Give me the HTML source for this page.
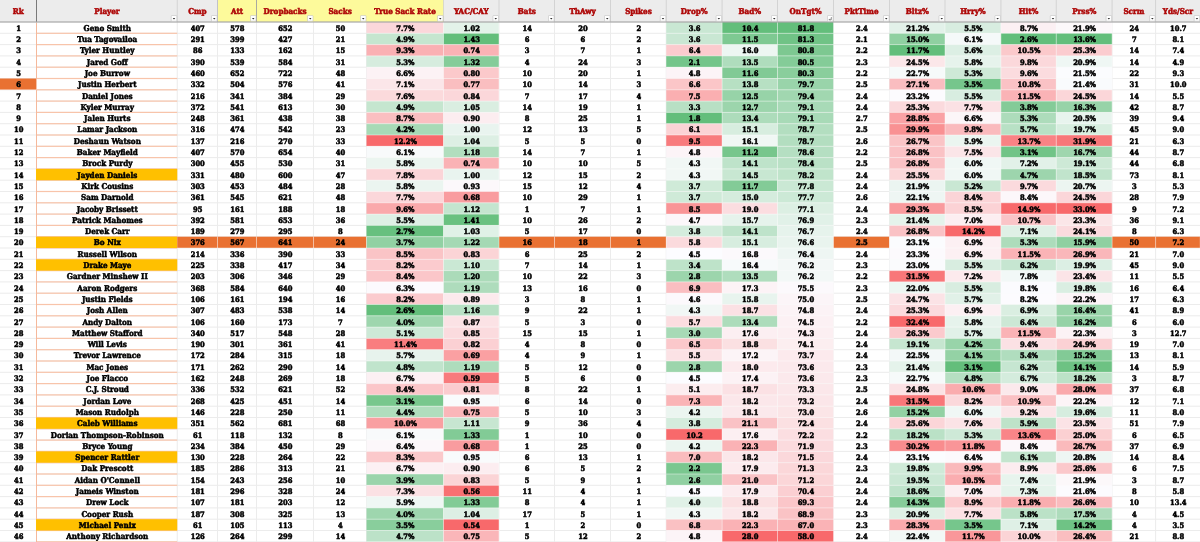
<!DOCTYPE html>
<html><head><meta charset="utf-8"><title>QB Advanced Passing</title>
<style>
html,body{margin:0;padding:0;background:#fff;}
body{width:1200px;height:542px;overflow:hidden;position:relative;font-family:"DejaVu Serif Condensed","DejaVu Serif","Liberation Serif",serif;font-weight:bold;color:#000;text-rendering:geometricPrecision;}
#sheet{position:absolute;left:0;top:0;width:1200px;height:542px;overflow:hidden;background:#fff;}
#bg{position:absolute;left:0;top:0;display:block;}
.c{position:absolute;box-sizing:border-box;padding-left:0.8px;text-align:center;white-space:nowrap;overflow:hidden;font-size:8.0px;letter-spacing:0;-webkit-text-stroke:0.46px #000;line-height:11.5px;height:11.3px;}
.h{position:absolute;box-sizing:border-box;padding-left:0.1px;top:0;height:22.5px;line-height:23.5px;text-align:center;white-space:nowrap;overflow:hidden;font-size:8.0px;letter-spacing:0;-webkit-text-stroke:0.5px #AE0808;color:#AE0808;}
.n{font-size:7.5px;-webkit-text-stroke-width:0.52px;}
</style></head><body><div id="sheet">

<svg id="bg" width="1200" height="542" viewBox="0 0 1200 542">
<rect width="1200" height="542" fill="#fff"/>
<rect x="0" y="0" width="1200" height="22.0" fill="#ECECEC"/>
<rect x="217.5" y="0" width="226" height="22.0" fill="#FDFA9B"/>
<rect x="36" y="0" width="1" height="22.0" fill="#7A7A7A"/>
<rect x="176.75" y="0" width="1" height="22.0" fill="#D3D3D3"/>
<rect x="217" y="0" width="1" height="22.0" fill="#C2C2C8"/>
<rect x="256" y="0" width="1" height="22.0" fill="#A9A9A0"/>
<rect x="443" y="0" width="1" height="22.0" fill="#D9D9C8"/>
<rect x="498.5" y="0" width="1" height="22.0" fill="#D3D3D3"/>
<rect x="554" y="0" width="1" height="22.0" fill="#D3D3D3"/>
<rect x="610" y="0" width="1" height="22.0" fill="#D3D3D3"/>
<rect x="665.75" y="0" width="1" height="22.0" fill="#D3D3D3"/>
<rect x="721.6" y="0" width="1" height="22.0" fill="#D3D3D3"/>
<rect x="777" y="0" width="1" height="22.0" fill="#D3D3D3"/>
<rect x="833" y="0" width="1" height="22.0" fill="#D3D3D3"/>
<rect x="889" y="0" width="1" height="22.0" fill="#D3D3D3"/>
<rect x="944.5" y="0" width="1" height="22.0" fill="#D3D3D3"/>
<rect x="1000.4" y="0" width="1" height="22.0" fill="#D3D3D3"/>
<rect x="1055.75" y="0" width="1" height="22.0" fill="#D3D3D3"/>
<rect x="1111.6" y="0" width="1" height="22.0" fill="#D3D3D3"/>
<rect x="1155.1" y="0" width="1" height="22.0" fill="#D3D3D3"/>
<rect x="0" y="32.8" width="1200" height="1" fill="#ECECEC"/>
<rect x="0" y="44.1" width="1200" height="1" fill="#ECECEC"/>
<rect x="0" y="55.4" width="1200" height="1" fill="#ECECEC"/>
<rect x="0" y="66.7" width="1200" height="1" fill="#ECECEC"/>
<rect x="0" y="78" width="1200" height="1" fill="#ECECEC"/>
<rect x="0" y="89.3" width="1200" height="1" fill="#ECECEC"/>
<rect x="0" y="100.6" width="1200" height="1" fill="#ECECEC"/>
<rect x="0" y="111.9" width="1200" height="1" fill="#ECECEC"/>
<rect x="0" y="123.2" width="1200" height="1" fill="#ECECEC"/>
<rect x="0" y="134.5" width="1200" height="1" fill="#ECECEC"/>
<rect x="0" y="145.8" width="1200" height="1" fill="#ECECEC"/>
<rect x="0" y="157.1" width="1200" height="1" fill="#ECECEC"/>
<rect x="0" y="168.4" width="1200" height="1" fill="#ECECEC"/>
<rect x="0" y="179.7" width="1200" height="1" fill="#ECECEC"/>
<rect x="0" y="191" width="1200" height="1" fill="#ECECEC"/>
<rect x="0" y="202.3" width="1200" height="1" fill="#ECECEC"/>
<rect x="0" y="213.6" width="1200" height="1" fill="#ECECEC"/>
<rect x="0" y="224.9" width="1200" height="1" fill="#ECECEC"/>
<rect x="0" y="236.2" width="1200" height="1" fill="#ECECEC"/>
<rect x="0" y="247.5" width="1200" height="1" fill="#ECECEC"/>
<rect x="0" y="258.8" width="1200" height="1" fill="#ECECEC"/>
<rect x="0" y="270.1" width="1200" height="1" fill="#ECECEC"/>
<rect x="0" y="281.4" width="1200" height="1" fill="#ECECEC"/>
<rect x="0" y="292.7" width="1200" height="1" fill="#ECECEC"/>
<rect x="0" y="304" width="1200" height="1" fill="#ECECEC"/>
<rect x="0" y="315.3" width="1200" height="1" fill="#ECECEC"/>
<rect x="0" y="326.6" width="1200" height="1" fill="#ECECEC"/>
<rect x="0" y="337.9" width="1200" height="1" fill="#ECECEC"/>
<rect x="0" y="349.2" width="1200" height="1" fill="#ECECEC"/>
<rect x="0" y="360.5" width="1200" height="1" fill="#ECECEC"/>
<rect x="0" y="371.8" width="1200" height="1" fill="#ECECEC"/>
<rect x="0" y="383.1" width="1200" height="1" fill="#ECECEC"/>
<rect x="0" y="394.4" width="1200" height="1" fill="#ECECEC"/>
<rect x="0" y="405.7" width="1200" height="1" fill="#ECECEC"/>
<rect x="0" y="417" width="1200" height="1" fill="#ECECEC"/>
<rect x="0" y="428.3" width="1200" height="1" fill="#ECECEC"/>
<rect x="0" y="439.6" width="1200" height="1" fill="#ECECEC"/>
<rect x="0" y="450.9" width="1200" height="1" fill="#ECECEC"/>
<rect x="0" y="462.2" width="1200" height="1" fill="#ECECEC"/>
<rect x="0" y="473.5" width="1200" height="1" fill="#ECECEC"/>
<rect x="0" y="484.8" width="1200" height="1" fill="#ECECEC"/>
<rect x="0" y="496.1" width="1200" height="1" fill="#ECECEC"/>
<rect x="0" y="507.4" width="1200" height="1" fill="#ECECEC"/>
<rect x="0" y="518.7" width="1200" height="1" fill="#ECECEC"/>
<rect x="0" y="530" width="1200" height="1" fill="#ECECEC"/>
<rect x="0" y="541.3" width="1200" height="1" fill="#ECECEC"/>
<rect x="36" y="22.0" width="1" height="520" fill="#ECECEC"/>
<rect x="176.75" y="22.0" width="1" height="520" fill="#ECECEC"/>
<rect x="217" y="22.0" width="1" height="520" fill="#ECECEC"/>
<rect x="256" y="22.0" width="1" height="520" fill="#ECECEC"/>
<rect x="313" y="22.0" width="1" height="520" fill="#ECECEC"/>
<rect x="366" y="22.0" width="1" height="520" fill="#ECECEC"/>
<rect x="443" y="22.0" width="1" height="520" fill="#ECECEC"/>
<rect x="498.5" y="22.0" width="1" height="520" fill="#ECECEC"/>
<rect x="554" y="22.0" width="1" height="520" fill="#ECECEC"/>
<rect x="610" y="22.0" width="1" height="520" fill="#ECECEC"/>
<rect x="665.75" y="22.0" width="1" height="520" fill="#ECECEC"/>
<rect x="721.6" y="22.0" width="1" height="520" fill="#ECECEC"/>
<rect x="777" y="22.0" width="1" height="520" fill="#ECECEC"/>
<rect x="833" y="22.0" width="1" height="520" fill="#ECECEC"/>
<rect x="889" y="22.0" width="1" height="520" fill="#ECECEC"/>
<rect x="944.5" y="22.0" width="1" height="520" fill="#ECECEC"/>
<rect x="1000.4" y="22.0" width="1" height="520" fill="#ECECEC"/>
<rect x="1055.75" y="22.0" width="1" height="520" fill="#ECECEC"/>
<rect x="1111.6" y="22.0" width="1" height="520" fill="#ECECEC"/>
<rect x="1155.1" y="22.0" width="1" height="520" fill="#ECECEC"/>
<rect x="36.5" y="32.7" width="140.75" height="1.2" fill="#F8C4AA"/>
<rect x="36.5" y="44" width="140.75" height="1.2" fill="#F8C4AA"/>
<rect x="36.5" y="55.3" width="140.75" height="1.2" fill="#F8C4AA"/>
<rect x="36.5" y="66.6" width="140.75" height="1.2" fill="#F8C4AA"/>
<rect x="36.5" y="77.9" width="140.75" height="1.2" fill="#F8C4AA"/>
<rect x="36.5" y="89.2" width="140.75" height="1.2" fill="#F8C4AA"/>
<rect x="36.5" y="100.5" width="140.75" height="1.2" fill="#F8C4AA"/>
<rect x="36.5" y="111.8" width="140.75" height="1.2" fill="#F8C4AA"/>
<rect x="36.5" y="123.1" width="140.75" height="1.2" fill="#F8C4AA"/>
<rect x="36.5" y="134.4" width="140.75" height="1.2" fill="#F8C4AA"/>
<rect x="36.5" y="145.7" width="140.75" height="1.2" fill="#F8C4AA"/>
<rect x="36.5" y="157" width="140.75" height="1.2" fill="#F8C4AA"/>
<rect x="36.5" y="168.3" width="140.75" height="1.2" fill="#F8C4AA"/>
<rect x="36.5" y="179.6" width="140.75" height="1.2" fill="#F8C4AA"/>
<rect x="36.5" y="190.9" width="140.75" height="1.2" fill="#F8C4AA"/>
<rect x="36.5" y="202.2" width="140.75" height="1.2" fill="#F8C4AA"/>
<rect x="36.5" y="213.5" width="140.75" height="1.2" fill="#F8C4AA"/>
<rect x="36.5" y="224.8" width="140.75" height="1.2" fill="#F8C4AA"/>
<rect x="36.5" y="236.1" width="140.75" height="1.2" fill="#F8C4AA"/>
<rect x="36.5" y="247.4" width="140.75" height="1.2" fill="#F8C4AA"/>
<rect x="36.5" y="258.7" width="140.75" height="1.2" fill="#F8C4AA"/>
<rect x="36.5" y="270" width="140.75" height="1.2" fill="#F8C4AA"/>
<rect x="36.5" y="281.3" width="140.75" height="1.2" fill="#F8C4AA"/>
<rect x="36.5" y="292.6" width="140.75" height="1.2" fill="#F8C4AA"/>
<rect x="36.5" y="303.9" width="140.75" height="1.2" fill="#F8C4AA"/>
<rect x="36.5" y="315.2" width="140.75" height="1.2" fill="#F8C4AA"/>
<rect x="36.5" y="326.5" width="140.75" height="1.2" fill="#F8C4AA"/>
<rect x="36.5" y="337.8" width="140.75" height="1.2" fill="#F8C4AA"/>
<rect x="36.5" y="349.1" width="140.75" height="1.2" fill="#F8C4AA"/>
<rect x="36.5" y="360.4" width="140.75" height="1.2" fill="#F8C4AA"/>
<rect x="36.5" y="371.7" width="140.75" height="1.2" fill="#F8C4AA"/>
<rect x="36.5" y="383" width="140.75" height="1.2" fill="#F8C4AA"/>
<rect x="36.5" y="394.3" width="140.75" height="1.2" fill="#F8C4AA"/>
<rect x="36.5" y="405.6" width="140.75" height="1.2" fill="#F8C4AA"/>
<rect x="36.5" y="416.9" width="140.75" height="1.2" fill="#F8C4AA"/>
<rect x="36.5" y="428.2" width="140.75" height="1.2" fill="#F8C4AA"/>
<rect x="36.5" y="439.5" width="140.75" height="1.2" fill="#F8C4AA"/>
<rect x="36.5" y="450.8" width="140.75" height="1.2" fill="#F8C4AA"/>
<rect x="36.5" y="462.1" width="140.75" height="1.2" fill="#F8C4AA"/>
<rect x="36.5" y="473.4" width="140.75" height="1.2" fill="#F8C4AA"/>
<rect x="36.5" y="484.7" width="140.75" height="1.2" fill="#F8C4AA"/>
<rect x="36.5" y="496" width="140.75" height="1.2" fill="#F8C4AA"/>
<rect x="36.5" y="507.3" width="140.75" height="1.2" fill="#F8C4AA"/>
<rect x="36.5" y="518.6" width="140.75" height="1.2" fill="#F8C4AA"/>
<rect x="36.5" y="529.9" width="140.75" height="1.2" fill="#F8C4AA"/>
<rect x="36.5" y="541.2" width="140.75" height="1.2" fill="#F8C4AA"/>
<rect x="36" y="22.6" width="1" height="520" fill="#F5B99C"/>
<rect x="366.5" y="22" width="77" height="11.3" fill="#FBD7DA"/>
<rect x="443.5" y="22" width="55.5" height="11.3" fill="#E3F2E9"/>
<rect x="666.25" y="22" width="55.85" height="11.3" fill="#C9E7D3"/>
<rect x="722.1" y="22" width="55.4" height="11.3" fill="#63BE7B"/>
<rect x="777.5" y="22" width="56" height="11.3" fill="#63BE7B"/>
<rect x="889.5" y="22" width="55.5" height="11.3" fill="#E2F1E9"/>
<rect x="945" y="22" width="55.9" height="11.3" fill="#D8EDE0"/>
<rect x="1000.9" y="22" width="55.35" height="11.3" fill="#FCF0F3"/>
<rect x="1056.25" y="22" width="55.85" height="11.3" fill="#FCF8FA"/>
<rect x="366.5" y="33.3" width="77" height="11.3" fill="#C5E6CF"/>
<rect x="443.5" y="33.3" width="55.5" height="11.3" fill="#63BE7B"/>
<rect x="666.25" y="33.3" width="55.85" height="11.3" fill="#C9E7D3"/>
<rect x="722.1" y="33.3" width="55.4" height="11.3" fill="#7EC992"/>
<rect x="777.5" y="33.3" width="56" height="11.3" fill="#70C386"/>
<rect x="889.5" y="33.3" width="55.5" height="11.3" fill="#8FD0A1"/>
<rect x="945" y="33.3" width="55.9" height="11.3" fill="#F5F9F9"/>
<rect x="1000.9" y="33.3" width="55.35" height="11.3" fill="#63BE7B"/>
<rect x="1056.25" y="33.3" width="55.85" height="11.3" fill="#63BE7B"/>
<rect x="366.5" y="44.6" width="77" height="11.3" fill="#FAB0B3"/>
<rect x="443.5" y="44.6" width="55.5" height="11.3" fill="#FAB2B5"/>
<rect x="666.25" y="44.6" width="55.85" height="11.3" fill="#FBCBCE"/>
<rect x="722.1" y="44.6" width="55.4" height="11.3" fill="#EDF6F2"/>
<rect x="777.5" y="44.6" width="56" height="11.3" fill="#7DC891"/>
<rect x="889.5" y="44.6" width="55.5" height="11.3" fill="#63BE7B"/>
<rect x="945" y="44.6" width="55.9" height="11.3" fill="#DCEFE4"/>
<rect x="1000.9" y="44.6" width="55.35" height="11.3" fill="#FBC9CB"/>
<rect x="1056.25" y="44.6" width="55.85" height="11.3" fill="#FBCCCF"/>
<rect x="366.5" y="55.9" width="77" height="11.3" fill="#D6ECDE"/>
<rect x="443.5" y="55.9" width="55.5" height="11.3" fill="#85CC99"/>
<rect x="666.25" y="55.9" width="55.85" height="11.3" fill="#74C58A"/>
<rect x="722.1" y="55.9" width="55.4" height="11.3" fill="#AFDDBD"/>
<rect x="777.5" y="55.9" width="56" height="11.3" fill="#84CC98"/>
<rect x="889.5" y="55.9" width="55.5" height="11.3" fill="#FBE7E9"/>
<rect x="945" y="55.9" width="55.9" height="11.3" fill="#E6F3EC"/>
<rect x="1000.9" y="55.9" width="55.35" height="11.3" fill="#FBD8DB"/>
<rect x="1056.25" y="55.9" width="55.85" height="11.3" fill="#EFF7F4"/>
<rect x="366.5" y="67.2" width="77" height="11.3" fill="#FCF2F5"/>
<rect x="443.5" y="67.2" width="55.5" height="11.3" fill="#FBC9CB"/>
<rect x="666.25" y="67.2" width="55.85" height="11.3" fill="#FCF4F7"/>
<rect x="722.1" y="67.2" width="55.4" height="11.3" fill="#81CA95"/>
<rect x="777.5" y="67.2" width="56" height="11.3" fill="#8ACE9C"/>
<rect x="889.5" y="67.2" width="55.5" height="11.3" fill="#F6FAFA"/>
<rect x="945" y="67.2" width="55.9" height="11.3" fill="#CEE9D7"/>
<rect x="1000.9" y="67.2" width="55.35" height="11.3" fill="#FBDCDF"/>
<rect x="1056.25" y="67.2" width="55.85" height="11.3" fill="#FBFCFE"/>
<rect x="0" y="78.5" width="36.5" height="11.3" fill="#E97132"/>
<rect x="366.5" y="78.5" width="77" height="11.3" fill="#FBE6E9"/>
<rect x="443.5" y="78.5" width="55.5" height="11.3" fill="#FABEC0"/>
<rect x="666.25" y="78.5" width="55.85" height="11.3" fill="#FBC6C8"/>
<rect x="722.1" y="78.5" width="55.4" height="11.3" fill="#B7E0C3"/>
<rect x="777.5" y="78.5" width="56" height="11.3" fill="#99D4AA"/>
<rect x="889.5" y="78.5" width="55.5" height="11.3" fill="#FABDC0"/>
<rect x="945" y="78.5" width="55.9" height="11.3" fill="#76C68C"/>
<rect x="1000.9" y="78.5" width="55.35" height="11.3" fill="#FAC2C5"/>
<rect x="1056.25" y="78.5" width="55.85" height="11.3" fill="#F9FBFD"/>
<rect x="366.5" y="89.8" width="77" height="11.3" fill="#FBDADC"/>
<rect x="443.5" y="89.8" width="55.5" height="11.3" fill="#FBD7DA"/>
<rect x="666.25" y="89.8" width="55.85" height="11.3" fill="#FAAFB1"/>
<rect x="722.1" y="89.8" width="55.4" height="11.3" fill="#97D3A8"/>
<rect x="777.5" y="89.8" width="56" height="11.3" fill="#A1D7B0"/>
<rect x="889.5" y="89.8" width="55.5" height="11.3" fill="#FCFBFE"/>
<rect x="945" y="89.8" width="55.9" height="11.3" fill="#D8EDE0"/>
<rect x="1000.9" y="89.8" width="55.35" height="11.3" fill="#FAB3B6"/>
<rect x="1056.25" y="89.8" width="55.85" height="11.3" fill="#FBD6D9"/>
<rect x="366.5" y="101.1" width="77" height="11.3" fill="#C5E6CF"/>
<rect x="443.5" y="101.1" width="55.5" height="11.3" fill="#DAEEE1"/>
<rect x="666.25" y="101.1" width="55.85" height="11.3" fill="#B8E0C4"/>
<rect x="722.1" y="101.1" width="55.4" height="11.3" fill="#9CD5AC"/>
<rect x="777.5" y="101.1" width="56" height="11.3" fill="#A8DAB7"/>
<rect x="889.5" y="101.1" width="55.5" height="11.3" fill="#FBDADD"/>
<rect x="945" y="101.1" width="55.9" height="11.3" fill="#FBE1E4"/>
<rect x="1000.9" y="101.1" width="55.35" height="11.3" fill="#84CB98"/>
<rect x="1056.25" y="101.1" width="55.85" height="11.3" fill="#97D3A8"/>
<rect x="366.5" y="112.4" width="77" height="11.3" fill="#FABFC1"/>
<rect x="443.5" y="112.4" width="55.5" height="11.3" fill="#FCEDF0"/>
<rect x="666.25" y="112.4" width="55.85" height="11.3" fill="#63BE7B"/>
<rect x="722.1" y="112.4" width="55.4" height="11.3" fill="#ADDCBB"/>
<rect x="777.5" y="112.4" width="56" height="11.3" fill="#A8DAB7"/>
<rect x="889.5" y="112.4" width="55.5" height="11.3" fill="#FAA2A5"/>
<rect x="945" y="112.4" width="55.9" height="11.3" fill="#FCF6F8"/>
<rect x="1000.9" y="112.4" width="55.35" height="11.3" fill="#ADDCBB"/>
<rect x="1056.25" y="112.4" width="55.85" height="11.3" fill="#E8F4EE"/>
<rect x="366.5" y="123.7" width="77" height="11.3" fill="#A7DAB6"/>
<rect x="443.5" y="123.7" width="55.5" height="11.3" fill="#E9F4EF"/>
<rect x="666.25" y="123.7" width="55.85" height="11.3" fill="#FBD3D5"/>
<rect x="722.1" y="123.7" width="55.4" height="11.3" fill="#D7EDDF"/>
<rect x="777.5" y="123.7" width="56" height="11.3" fill="#B3DEC0"/>
<rect x="889.5" y="123.7" width="55.5" height="11.3" fill="#F99193"/>
<rect x="945" y="123.7" width="55.9" height="11.3" fill="#FABABD"/>
<rect x="1000.9" y="123.7" width="55.35" height="11.3" fill="#B8E1C5"/>
<rect x="1056.25" y="123.7" width="55.85" height="11.3" fill="#D8EEE0"/>
<rect x="366.5" y="135" width="77" height="11.3" fill="#F8696B"/>
<rect x="443.5" y="135" width="55.5" height="11.3" fill="#DDEFE4"/>
<rect x="666.25" y="135" width="55.85" height="11.3" fill="#F87B7D"/>
<rect x="722.1" y="135" width="55.4" height="11.3" fill="#F0F7F4"/>
<rect x="777.5" y="135" width="56" height="11.3" fill="#B3DEC0"/>
<rect x="889.5" y="135" width="55.5" height="11.3" fill="#FAC4C6"/>
<rect x="945" y="135" width="55.9" height="11.3" fill="#EBF5F0"/>
<rect x="1000.9" y="135" width="55.35" height="11.3" fill="#F98385"/>
<rect x="1056.25" y="135" width="55.85" height="11.3" fill="#F87779"/>
<rect x="366.5" y="146.3" width="77" height="11.3" fill="#F8FAFB"/>
<rect x="443.5" y="146.3" width="55.5" height="11.3" fill="#B1DEBE"/>
<rect x="666.25" y="146.3" width="55.85" height="11.3" fill="#FCF4F7"/>
<rect x="722.1" y="146.3" width="55.4" height="11.3" fill="#77C68C"/>
<rect x="777.5" y="146.3" width="56" height="11.3" fill="#B5DFC2"/>
<rect x="889.5" y="146.3" width="55.5" height="11.3" fill="#FAC2C5"/>
<rect x="945" y="146.3" width="55.9" height="11.3" fill="#FBE5E8"/>
<rect x="1000.9" y="146.3" width="55.35" height="11.3" fill="#71C487"/>
<rect x="1056.25" y="146.3" width="55.85" height="11.3" fill="#9FD6AE"/>
<rect x="366.5" y="157.6" width="77" height="11.3" fill="#EBF5F0"/>
<rect x="443.5" y="157.6" width="55.5" height="11.3" fill="#FAB2B5"/>
<rect x="666.25" y="157.6" width="55.85" height="11.3" fill="#F1F7F5"/>
<rect x="722.1" y="157.6" width="55.4" height="11.3" fill="#BEE3CA"/>
<rect x="777.5" y="157.6" width="56" height="11.3" fill="#BAE1C6"/>
<rect x="889.5" y="157.6" width="55.5" height="11.3" fill="#FAC2C5"/>
<rect x="945" y="157.6" width="55.9" height="11.3" fill="#F0F7F5"/>
<rect x="1000.9" y="157.6" width="55.35" height="11.3" fill="#E2F1E8"/>
<rect x="1056.25" y="157.6" width="55.85" height="11.3" fill="#CDE9D6"/>
<rect x="36" y="168.9" width="141.25" height="11.3" fill="#FFC000"/>
<rect x="366.5" y="168.9" width="77" height="11.3" fill="#FBD5D8"/>
<rect x="443.5" y="168.9" width="55.5" height="11.3" fill="#E9F4EF"/>
<rect x="666.25" y="168.9" width="55.85" height="11.3" fill="#F1F7F5"/>
<rect x="722.1" y="168.9" width="55.4" height="11.3" fill="#C8E7D2"/>
<rect x="777.5" y="168.9" width="56" height="11.3" fill="#C0E4CB"/>
<rect x="889.5" y="168.9" width="55.5" height="11.3" fill="#FBD7D9"/>
<rect x="945" y="168.9" width="55.9" height="11.3" fill="#F0F7F5"/>
<rect x="1000.9" y="168.9" width="55.35" height="11.3" fill="#9DD5AD"/>
<rect x="1056.25" y="168.9" width="55.85" height="11.3" fill="#C1E4CC"/>
<rect x="366.5" y="180.2" width="77" height="11.3" fill="#EBF5F0"/>
<rect x="443.5" y="180.2" width="55.5" height="11.3" fill="#FCF8FB"/>
<rect x="666.25" y="180.2" width="55.85" height="11.3" fill="#CFEAD8"/>
<rect x="722.1" y="180.2" width="55.4" height="11.3" fill="#83CB97"/>
<rect x="777.5" y="180.2" width="56" height="11.3" fill="#CAE8D4"/>
<rect x="889.5" y="180.2" width="55.5" height="11.3" fill="#EBF5F1"/>
<rect x="945" y="180.2" width="55.9" height="11.3" fill="#C9E7D3"/>
<rect x="1000.9" y="180.2" width="55.35" height="11.3" fill="#FBDADD"/>
<rect x="1056.25" y="180.2" width="55.85" height="11.3" fill="#ECF5F1"/>
<rect x="366.5" y="191.5" width="77" height="11.3" fill="#FBD7DA"/>
<rect x="443.5" y="191.5" width="55.5" height="11.3" fill="#F99C9F"/>
<rect x="666.25" y="191.5" width="55.85" height="11.3" fill="#CFEAD8"/>
<rect x="722.1" y="191.5" width="55.4" height="11.3" fill="#D5ECDD"/>
<rect x="777.5" y="191.5" width="56" height="11.3" fill="#CCE9D6"/>
<rect x="889.5" y="191.5" width="55.5" height="11.3" fill="#EEF6F3"/>
<rect x="945" y="191.5" width="55.9" height="11.3" fill="#FBD4D7"/>
<rect x="1000.9" y="191.5" width="55.35" height="11.3" fill="#FCF7FA"/>
<rect x="1056.25" y="191.5" width="55.85" height="11.3" fill="#FBD6D9"/>
<rect x="366.5" y="202.8" width="77" height="11.3" fill="#FAA9AB"/>
<rect x="443.5" y="202.8" width="55.5" height="11.3" fill="#C4E5CF"/>
<rect x="666.25" y="202.8" width="55.85" height="11.3" fill="#F99597"/>
<rect x="722.1" y="202.8" width="55.4" height="11.3" fill="#FBDDE0"/>
<rect x="777.5" y="202.8" width="56" height="11.3" fill="#DCEFE3"/>
<rect x="889.5" y="202.8" width="55.5" height="11.3" fill="#F99A9D"/>
<rect x="945" y="202.8" width="55.9" height="11.3" fill="#FBD2D5"/>
<rect x="1000.9" y="202.8" width="55.35" height="11.3" fill="#F8696B"/>
<rect x="1056.25" y="202.8" width="55.85" height="11.3" fill="#F8696B"/>
<rect x="366.5" y="214.1" width="77" height="11.3" fill="#DEF0E5"/>
<rect x="443.5" y="214.1" width="55.5" height="11.3" fill="#69C180"/>
<rect x="666.25" y="214.1" width="55.85" height="11.3" fill="#FCF7FA"/>
<rect x="722.1" y="214.1" width="55.4" height="11.3" fill="#E6F3EC"/>
<rect x="777.5" y="214.1" width="56" height="11.3" fill="#E1F1E8"/>
<rect x="889.5" y="214.1" width="55.5" height="11.3" fill="#E5F3EB"/>
<rect x="945" y="214.1" width="55.9" height="11.3" fill="#FCEEF1"/>
<rect x="1000.9" y="214.1" width="55.35" height="11.3" fill="#FAC4C7"/>
<rect x="1056.25" y="214.1" width="55.85" height="11.3" fill="#FBE6E8"/>
<rect x="366.5" y="225.4" width="77" height="11.3" fill="#67C07F"/>
<rect x="443.5" y="225.4" width="55.5" height="11.3" fill="#E0F1E7"/>
<rect x="666.25" y="225.4" width="55.85" height="11.3" fill="#D4ECDD"/>
<rect x="722.1" y="225.4" width="55.4" height="11.3" fill="#BEE3CA"/>
<rect x="777.5" y="225.4" width="56" height="11.3" fill="#E6F3EC"/>
<rect x="889.5" y="225.4" width="55.5" height="11.3" fill="#FAC2C5"/>
<rect x="945" y="225.4" width="55.9" height="11.3" fill="#F8696B"/>
<rect x="1000.9" y="225.4" width="55.35" height="11.3" fill="#DFF0E6"/>
<rect x="1056.25" y="225.4" width="55.85" height="11.3" fill="#FBDBDE"/>
<rect x="36" y="236.7" width="141.25" height="11.3" fill="#FFC000"/>
<rect x="177.25" y="236.7" width="40.25" height="11.3" fill="#E97132"/>
<rect x="217.5" y="236.7" width="39" height="11.3" fill="#E97132"/>
<rect x="256.5" y="236.7" width="57" height="11.3" fill="#E97132"/>
<rect x="313.5" y="236.7" width="53" height="11.3" fill="#E97132"/>
<rect x="366.5" y="236.7" width="77" height="11.3" fill="#92D1A3"/>
<rect x="443.5" y="236.7" width="55.5" height="11.3" fill="#A5D9B4"/>
<rect x="499" y="236.7" width="55.5" height="11.3" fill="#E97132"/>
<rect x="554.5" y="236.7" width="56" height="11.3" fill="#E97132"/>
<rect x="610.5" y="236.7" width="55.75" height="11.3" fill="#E97132"/>
<rect x="666.25" y="236.7" width="55.85" height="11.3" fill="#FBDADD"/>
<rect x="722.1" y="236.7" width="55.4" height="11.3" fill="#D7EDDF"/>
<rect x="777.5" y="236.7" width="56" height="11.3" fill="#E9F4EE"/>
<rect x="833.5" y="236.7" width="56" height="11.3" fill="#E97132"/>
<rect x="889.5" y="236.7" width="55.5" height="11.3" fill="#FBFCFE"/>
<rect x="945" y="236.7" width="55.9" height="11.3" fill="#FCF0F3"/>
<rect x="1000.9" y="236.7" width="55.35" height="11.3" fill="#ADDCBB"/>
<rect x="1056.25" y="236.7" width="55.85" height="11.3" fill="#8FD0A1"/>
<rect x="1112.1" y="236.7" width="43.5" height="11.3" fill="#E97132"/>
<rect x="1155.6" y="236.7" width="44.6" height="11.3" fill="#E97132"/>
<rect x="366.5" y="248" width="77" height="11.3" fill="#FAC4C6"/>
<rect x="443.5" y="248" width="55.5" height="11.3" fill="#FBD4D6"/>
<rect x="666.25" y="248" width="55.85" height="11.3" fill="#FCFCFF"/>
<rect x="722.1" y="248" width="55.4" height="11.3" fill="#FCF9FC"/>
<rect x="777.5" y="248" width="56" height="11.3" fill="#EEF6F3"/>
<rect x="889.5" y="248" width="55.5" height="11.3" fill="#FCFAFD"/>
<rect x="945" y="248" width="55.9" height="11.3" fill="#FCF0F3"/>
<rect x="1000.9" y="248" width="55.35" height="11.3" fill="#FAB3B6"/>
<rect x="1056.25" y="248" width="55.85" height="11.3" fill="#FAB7BA"/>
<rect x="36" y="259.3" width="141.25" height="11.3" fill="#FFC000"/>
<rect x="366.5" y="259.3" width="77" height="11.3" fill="#FBCBCE"/>
<rect x="443.5" y="259.3" width="55.5" height="11.3" fill="#CAE8D4"/>
<rect x="666.25" y="259.3" width="55.85" height="11.3" fill="#BEE3C9"/>
<rect x="722.1" y="259.3" width="55.4" height="11.3" fill="#F7FAFB"/>
<rect x="777.5" y="259.3" width="56" height="11.3" fill="#F3F8F7"/>
<rect x="889.5" y="259.3" width="55.5" height="11.3" fill="#FAFBFD"/>
<rect x="945" y="259.3" width="55.9" height="11.3" fill="#D8EDE0"/>
<rect x="1000.9" y="259.3" width="55.35" height="11.3" fill="#C6E6D1"/>
<rect x="1056.25" y="259.3" width="55.85" height="11.3" fill="#DCEFE4"/>
<rect x="366.5" y="270.6" width="77" height="11.3" fill="#FBC6C9"/>
<rect x="443.5" y="270.6" width="55.5" height="11.3" fill="#ABDBB9"/>
<rect x="666.25" y="270.6" width="55.85" height="11.3" fill="#9CD5AC"/>
<rect x="722.1" y="270.6" width="55.4" height="11.3" fill="#AFDDBD"/>
<rect x="777.5" y="270.6" width="56" height="11.3" fill="#F3F8F7"/>
<rect x="889.5" y="270.6" width="55.5" height="11.3" fill="#F87779"/>
<rect x="945" y="270.6" width="55.9" height="11.3" fill="#FCEAED"/>
<rect x="1000.9" y="270.6" width="55.35" height="11.3" fill="#F2F8F7"/>
<rect x="1056.25" y="270.6" width="55.85" height="11.3" fill="#FBE4E7"/>
<rect x="366.5" y="281.9" width="77" height="11.3" fill="#FCFAFD"/>
<rect x="443.5" y="281.9" width="55.5" height="11.3" fill="#AEDCBC"/>
<rect x="666.25" y="281.9" width="55.85" height="11.3" fill="#FABEC1"/>
<rect x="722.1" y="281.9" width="55.4" height="11.3" fill="#FCF3F6"/>
<rect x="777.5" y="281.9" width="56" height="11.3" fill="#FCF9FC"/>
<rect x="889.5" y="281.9" width="55.5" height="11.3" fill="#EDF6F2"/>
<rect x="945" y="281.9" width="55.9" height="11.3" fill="#D8EDE0"/>
<rect x="1000.9" y="281.9" width="55.35" height="11.3" fill="#FBFBFE"/>
<rect x="1056.25" y="281.9" width="55.85" height="11.3" fill="#DAEEE2"/>
<rect x="366.5" y="293.2" width="77" height="11.3" fill="#FBCBCE"/>
<rect x="443.5" y="293.2" width="55.5" height="11.3" fill="#FCEAED"/>
<rect x="666.25" y="293.2" width="55.85" height="11.3" fill="#FCF9FC"/>
<rect x="722.1" y="293.2" width="55.4" height="11.3" fill="#E8F4EE"/>
<rect x="777.5" y="293.2" width="56" height="11.3" fill="#FCF5F8"/>
<rect x="889.5" y="293.2" width="55.5" height="11.3" fill="#FBE3E6"/>
<rect x="945" y="293.2" width="55.9" height="11.3" fill="#E1F1E8"/>
<rect x="1000.9" y="293.2" width="55.35" height="11.3" fill="#FCFBFE"/>
<rect x="1056.25" y="293.2" width="55.85" height="11.3" fill="#FCF4F7"/>
<rect x="366.5" y="304.5" width="77" height="11.3" fill="#63BE7B"/>
<rect x="443.5" y="304.5" width="55.5" height="11.3" fill="#B7E0C4"/>
<rect x="666.25" y="304.5" width="55.85" height="11.3" fill="#F1F7F5"/>
<rect x="722.1" y="304.5" width="55.4" height="11.3" fill="#FBE1E4"/>
<rect x="777.5" y="304.5" width="56" height="11.3" fill="#FCF3F6"/>
<rect x="889.5" y="304.5" width="55.5" height="11.3" fill="#FBDADD"/>
<rect x="945" y="304.5" width="55.9" height="11.3" fill="#FCF0F3"/>
<rect x="1000.9" y="304.5" width="55.35" height="11.3" fill="#DAEEE1"/>
<rect x="1056.25" y="304.5" width="55.85" height="11.3" fill="#99D4A9"/>
<rect x="366.5" y="315.8" width="77" height="11.3" fill="#9ED6AE"/>
<rect x="443.5" y="315.8" width="55.5" height="11.3" fill="#FBE2E5"/>
<rect x="666.25" y="315.8" width="55.85" height="11.3" fill="#FBDDE0"/>
<rect x="722.1" y="315.8" width="55.4" height="11.3" fill="#ADDCBB"/>
<rect x="777.5" y="315.8" width="56" height="11.3" fill="#FCF1F4"/>
<rect x="889.5" y="315.8" width="55.5" height="11.3" fill="#F8696B"/>
<rect x="945" y="315.8" width="55.9" height="11.3" fill="#E6F3EC"/>
<rect x="1000.9" y="315.8" width="55.35" height="11.3" fill="#CCE8D5"/>
<rect x="1056.25" y="315.8" width="55.85" height="11.3" fill="#95D2A6"/>
<rect x="366.5" y="327.1" width="77" height="11.3" fill="#CDE9D7"/>
<rect x="443.5" y="327.1" width="55.5" height="11.3" fill="#FBDBDE"/>
<rect x="666.25" y="327.1" width="55.85" height="11.3" fill="#A7DAB6"/>
<rect x="722.1" y="327.1" width="55.4" height="11.3" fill="#FCEFF2"/>
<rect x="777.5" y="327.1" width="56" height="11.3" fill="#FCEFF2"/>
<rect x="889.5" y="327.1" width="55.5" height="11.3" fill="#FBCACD"/>
<rect x="945" y="327.1" width="55.9" height="11.3" fill="#E1F1E8"/>
<rect x="1000.9" y="327.1" width="55.35" height="11.3" fill="#FAB3B6"/>
<rect x="1056.25" y="327.1" width="55.85" height="11.3" fill="#FCF2F5"/>
<rect x="366.5" y="338.4" width="77" height="11.3" fill="#F97D7F"/>
<rect x="443.5" y="338.4" width="55.5" height="11.3" fill="#FBD0D3"/>
<rect x="666.25" y="338.4" width="55.85" height="11.3" fill="#FBC8CB"/>
<rect x="722.1" y="338.4" width="55.4" height="11.3" fill="#FBE0E2"/>
<rect x="777.5" y="338.4" width="56" height="11.3" fill="#FCEEF0"/>
<rect x="889.5" y="338.4" width="55.5" height="11.3" fill="#C6E6D0"/>
<rect x="945" y="338.4" width="55.9" height="11.3" fill="#98D4A9"/>
<rect x="1000.9" y="338.4" width="55.35" height="11.3" fill="#FBE1E4"/>
<rect x="1056.25" y="338.4" width="55.85" height="11.3" fill="#FBD1D4"/>
<rect x="366.5" y="349.7" width="77" height="11.3" fill="#E7F3ED"/>
<rect x="443.5" y="349.7" width="55.5" height="11.3" fill="#FAA0A2"/>
<rect x="666.25" y="349.7" width="55.85" height="11.3" fill="#FBE2E5"/>
<rect x="722.1" y="349.7" width="55.4" height="11.3" fill="#FCF4F7"/>
<rect x="777.5" y="349.7" width="56" height="11.3" fill="#FCEAED"/>
<rect x="889.5" y="349.7" width="55.5" height="11.3" fill="#F3F8F8"/>
<rect x="945" y="349.7" width="55.9" height="11.3" fill="#94D2A5"/>
<rect x="1000.9" y="349.7" width="55.35" height="11.3" fill="#B0DDBE"/>
<rect x="1056.25" y="349.7" width="55.85" height="11.3" fill="#82CA96"/>
<rect x="366.5" y="361" width="77" height="11.3" fill="#C0E4CC"/>
<rect x="443.5" y="361" width="55.5" height="11.3" fill="#AEDCBC"/>
<rect x="666.25" y="361" width="55.85" height="11.3" fill="#9CD5AC"/>
<rect x="722.1" y="361" width="55.4" height="11.3" fill="#FCEAED"/>
<rect x="777.5" y="361" width="56" height="11.3" fill="#FBE9EC"/>
<rect x="889.5" y="361" width="55.5" height="11.3" fill="#E5F3EB"/>
<rect x="945" y="361" width="55.9" height="11.3" fill="#63BE7B"/>
<rect x="1000.9" y="361" width="55.35" height="11.3" fill="#C6E6D1"/>
<rect x="1056.25" y="361" width="55.85" height="11.3" fill="#6DC283"/>
<rect x="366.5" y="372.3" width="77" height="11.3" fill="#FCF0F3"/>
<rect x="443.5" y="372.3" width="55.5" height="11.3" fill="#F87B7D"/>
<rect x="666.25" y="372.3" width="55.85" height="11.3" fill="#FCFCFF"/>
<rect x="722.1" y="372.3" width="55.4" height="11.3" fill="#FCF2F5"/>
<rect x="777.5" y="372.3" width="56" height="11.3" fill="#FBE9EC"/>
<rect x="889.5" y="372.3" width="55.5" height="11.3" fill="#F6FAFA"/>
<rect x="945" y="372.3" width="55.9" height="11.3" fill="#B6DFC2"/>
<rect x="1000.9" y="372.3" width="55.35" height="11.3" fill="#D4ECDD"/>
<rect x="1056.25" y="372.3" width="55.85" height="11.3" fill="#BCE2C7"/>
<rect x="366.5" y="383.6" width="77" height="11.3" fill="#FBC6C9"/>
<rect x="443.5" y="383.6" width="55.5" height="11.3" fill="#FBCCCF"/>
<rect x="666.25" y="383.6" width="55.85" height="11.3" fill="#FCEDEF"/>
<rect x="722.1" y="383.6" width="55.4" height="11.3" fill="#FBE1E4"/>
<rect x="777.5" y="383.6" width="56" height="11.3" fill="#FBE7EA"/>
<rect x="889.5" y="383.6" width="55.5" height="11.3" fill="#FBE2E5"/>
<rect x="945" y="383.6" width="55.9" height="11.3" fill="#FAACAE"/>
<rect x="1000.9" y="383.6" width="55.35" height="11.3" fill="#FBE9EC"/>
<rect x="1056.25" y="383.6" width="55.85" height="11.3" fill="#FAA9AC"/>
<rect x="366.5" y="394.9" width="77" height="11.3" fill="#78C78D"/>
<rect x="443.5" y="394.9" width="55.5" height="11.3" fill="#F9FBFC"/>
<rect x="666.25" y="394.9" width="55.85" height="11.3" fill="#FAB4B6"/>
<rect x="722.1" y="394.9" width="55.4" height="11.3" fill="#FBE7EA"/>
<rect x="777.5" y="394.9" width="56" height="11.3" fill="#FBE6E9"/>
<rect x="889.5" y="394.9" width="55.5" height="11.3" fill="#F87779"/>
<rect x="945" y="394.9" width="55.9" height="11.3" fill="#FBD8DB"/>
<rect x="1000.9" y="394.9" width="55.35" height="11.3" fill="#FAC0C3"/>
<rect x="1056.25" y="394.9" width="55.85" height="11.3" fill="#FCF4F7"/>
<rect x="366.5" y="406.2" width="77" height="11.3" fill="#B0DDBD"/>
<rect x="443.5" y="406.2" width="55.5" height="11.3" fill="#FAB6B9"/>
<rect x="666.25" y="406.2" width="55.85" height="11.3" fill="#EBF5F0"/>
<rect x="722.1" y="406.2" width="55.4" height="11.3" fill="#FBE9EC"/>
<rect x="777.5" y="406.2" width="56" height="11.3" fill="#FBE5E7"/>
<rect x="889.5" y="406.2" width="55.5" height="11.3" fill="#92D1A3"/>
<rect x="945" y="406.2" width="55.9" height="11.3" fill="#F0F7F5"/>
<rect x="1000.9" y="406.2" width="55.35" height="11.3" fill="#FBE5E8"/>
<rect x="1056.25" y="406.2" width="55.85" height="11.3" fill="#D6EDDF"/>
<rect x="36" y="417.5" width="141.25" height="11.3" fill="#FFC000"/>
<rect x="366.5" y="417.5" width="77" height="11.3" fill="#F99FA1"/>
<rect x="443.5" y="417.5" width="55.5" height="11.3" fill="#C7E6D1"/>
<rect x="666.25" y="417.5" width="55.85" height="11.3" fill="#D4ECDD"/>
<rect x="722.1" y="417.5" width="55.4" height="11.3" fill="#FAC2C5"/>
<rect x="777.5" y="417.5" width="56" height="11.3" fill="#FBE0E2"/>
<rect x="889.5" y="417.5" width="55.5" height="11.3" fill="#FBD5D8"/>
<rect x="945" y="417.5" width="55.9" height="11.3" fill="#FBE3E6"/>
<rect x="1000.9" y="417.5" width="55.35" height="11.3" fill="#BEE3C9"/>
<rect x="1056.25" y="417.5" width="55.85" height="11.3" fill="#FBE3E6"/>
<rect x="366.5" y="428.8" width="77" height="11.3" fill="#F8FAFB"/>
<rect x="443.5" y="428.8" width="55.5" height="11.3" fill="#82CB96"/>
<rect x="666.25" y="428.8" width="55.85" height="11.3" fill="#F8696B"/>
<rect x="722.1" y="428.8" width="55.4" height="11.3" fill="#FCEFF2"/>
<rect x="777.5" y="428.8" width="56" height="11.3" fill="#FBDEE1"/>
<rect x="889.5" y="428.8" width="55.5" height="11.3" fill="#BAE1C6"/>
<rect x="945" y="428.8" width="55.9" height="11.3" fill="#CEE9D7"/>
<rect x="1000.9" y="428.8" width="55.35" height="11.3" fill="#F98588"/>
<rect x="1056.25" y="428.8" width="55.85" height="11.3" fill="#FBD0D2"/>
<rect x="366.5" y="440.1" width="77" height="11.3" fill="#FCF7FA"/>
<rect x="443.5" y="440.1" width="55.5" height="11.3" fill="#F99C9F"/>
<rect x="666.25" y="440.1" width="55.85" height="11.3" fill="#EBF5F0"/>
<rect x="722.1" y="440.1" width="55.4" height="11.3" fill="#FAB2B5"/>
<rect x="777.5" y="440.1" width="56" height="11.3" fill="#FBDBDE"/>
<rect x="889.5" y="440.1" width="55.5" height="11.3" fill="#F98C8E"/>
<rect x="945" y="440.1" width="55.9" height="11.3" fill="#F99598"/>
<rect x="1000.9" y="440.1" width="55.35" height="11.3" fill="#FCF7FA"/>
<rect x="1056.25" y="440.1" width="55.85" height="11.3" fill="#FABABC"/>
<rect x="36" y="451.4" width="141.25" height="11.3" fill="#FFC000"/>
<rect x="366.5" y="451.4" width="77" height="11.3" fill="#FBC9CB"/>
<rect x="443.5" y="451.4" width="55.5" height="11.3" fill="#F9FBFC"/>
<rect x="666.25" y="451.4" width="55.85" height="11.3" fill="#FABCBE"/>
<rect x="722.1" y="451.4" width="55.4" height="11.3" fill="#FBE7EA"/>
<rect x="777.5" y="451.4" width="56" height="11.3" fill="#FBD8DB"/>
<rect x="889.5" y="451.4" width="55.5" height="11.3" fill="#FBFCFE"/>
<rect x="945" y="451.4" width="55.9" height="11.3" fill="#FCF9FC"/>
<rect x="1000.9" y="451.4" width="55.35" height="11.3" fill="#C3E5CE"/>
<rect x="1056.25" y="451.4" width="55.85" height="11.3" fill="#EEF6F3"/>
<rect x="366.5" y="462.7" width="77" height="11.3" fill="#FCF0F3"/>
<rect x="443.5" y="462.7" width="55.5" height="11.3" fill="#FCEDF0"/>
<rect x="666.25" y="462.7" width="55.85" height="11.3" fill="#7AC78F"/>
<rect x="722.1" y="462.7" width="55.4" height="11.3" fill="#FCEBEE"/>
<rect x="777.5" y="462.7" width="56" height="11.3" fill="#FBD7D9"/>
<rect x="889.5" y="462.7" width="55.5" height="11.3" fill="#CFEAD8"/>
<rect x="945" y="462.7" width="55.9" height="11.3" fill="#FAB9BB"/>
<rect x="1000.9" y="462.7" width="55.35" height="11.3" fill="#FCECEF"/>
<rect x="1056.25" y="462.7" width="55.85" height="11.3" fill="#FBC8CB"/>
<rect x="366.5" y="474" width="77" height="11.3" fill="#9AD4AB"/>
<rect x="443.5" y="474" width="55.5" height="11.3" fill="#FBD4D6"/>
<rect x="666.25" y="474" width="55.85" height="11.3" fill="#90D0A2"/>
<rect x="722.1" y="474" width="55.4" height="11.3" fill="#FAC3C6"/>
<rect x="777.5" y="474" width="56" height="11.3" fill="#FBD6D8"/>
<rect x="889.5" y="474" width="55.5" height="11.3" fill="#CBE8D5"/>
<rect x="945" y="474" width="55.9" height="11.3" fill="#FAADB0"/>
<rect x="1000.9" y="474" width="55.35" height="11.3" fill="#E7F4ED"/>
<rect x="1056.25" y="474" width="55.85" height="11.3" fill="#FCF8FA"/>
<rect x="366.5" y="485.3" width="77" height="11.3" fill="#FBE1E4"/>
<rect x="443.5" y="485.3" width="55.5" height="11.3" fill="#F87072"/>
<rect x="666.25" y="485.3" width="55.85" height="11.3" fill="#FCFCFF"/>
<rect x="722.1" y="485.3" width="55.4" height="11.3" fill="#FCEBEE"/>
<rect x="777.5" y="485.3" width="56" height="11.3" fill="#FBCFD2"/>
<rect x="889.5" y="485.3" width="55.5" height="11.3" fill="#BFE3CB"/>
<rect x="945" y="485.3" width="55.9" height="11.3" fill="#FCEEF1"/>
<rect x="1000.9" y="485.3" width="55.35" height="11.3" fill="#E5F3EB"/>
<rect x="1056.25" y="485.3" width="55.85" height="11.3" fill="#FCFBFE"/>
<rect x="366.5" y="496.6" width="77" height="11.3" fill="#EFF7F4"/>
<rect x="443.5" y="496.6" width="55.5" height="11.3" fill="#82CB96"/>
<rect x="666.25" y="496.6" width="55.85" height="11.3" fill="#E0F1E7"/>
<rect x="722.1" y="496.6" width="55.4" height="11.3" fill="#FBE0E2"/>
<rect x="777.5" y="496.6" width="56" height="11.3" fill="#FBC6C9"/>
<rect x="889.5" y="496.6" width="55.5" height="11.3" fill="#86CC99"/>
<rect x="945" y="496.6" width="55.9" height="11.3" fill="#FBCBCE"/>
<rect x="1000.9" y="496.6" width="55.35" height="11.3" fill="#FAADAF"/>
<rect x="1056.25" y="496.6" width="55.85" height="11.3" fill="#FABBBE"/>
<rect x="366.5" y="507.9" width="77" height="11.3" fill="#9ED6AE"/>
<rect x="443.5" y="507.9" width="55.5" height="11.3" fill="#DDEFE4"/>
<rect x="666.25" y="507.9" width="55.85" height="11.3" fill="#F1F7F5"/>
<rect x="722.1" y="507.9" width="55.4" height="11.3" fill="#FBE7EA"/>
<rect x="777.5" y="507.9" width="56" height="11.3" fill="#FAC3C5"/>
<rect x="889.5" y="507.9" width="55.5" height="11.3" fill="#DEF0E5"/>
<rect x="945" y="507.9" width="55.9" height="11.3" fill="#FBE1E4"/>
<rect x="1000.9" y="507.9" width="55.35" height="11.3" fill="#BBE2C7"/>
<rect x="1056.25" y="507.9" width="55.85" height="11.3" fill="#AEDCBC"/>
<rect x="36" y="519.2" width="141.25" height="11.3" fill="#FFC000"/>
<rect x="366.5" y="519.2" width="77" height="11.3" fill="#89CE9C"/>
<rect x="443.5" y="519.2" width="55.5" height="11.3" fill="#F8696B"/>
<rect x="666.25" y="519.2" width="55.85" height="11.3" fill="#FAC1C3"/>
<rect x="722.1" y="519.2" width="55.4" height="11.3" fill="#FAB2B5"/>
<rect x="777.5" y="519.2" width="56" height="11.3" fill="#FAB3B6"/>
<rect x="889.5" y="519.2" width="55.5" height="11.3" fill="#FAAAAD"/>
<rect x="945" y="519.2" width="55.9" height="11.3" fill="#76C68C"/>
<rect x="1000.9" y="519.2" width="55.35" height="11.3" fill="#DFF0E6"/>
<rect x="1056.25" y="519.2" width="55.85" height="11.3" fill="#6FC385"/>
<rect x="366.5" y="530.5" width="77" height="11.3" fill="#BCE2C8"/>
<rect x="443.5" y="530.5" width="55.5" height="11.3" fill="#FAB6B9"/>
<rect x="666.25" y="530.5" width="55.85" height="11.3" fill="#FCF4F7"/>
<rect x="722.1" y="530.5" width="55.4" height="11.3" fill="#F8696B"/>
<rect x="777.5" y="530.5" width="56" height="11.3" fill="#F8696B"/>
<rect x="889.5" y="530.5" width="55.5" height="11.3" fill="#F2F8F6"/>
<rect x="945" y="530.5" width="55.9" height="11.3" fill="#F9979A"/>
<rect x="1000.9" y="530.5" width="55.35" height="11.3" fill="#FBD4D6"/>
<rect x="1056.25" y="530.5" width="55.85" height="11.3" fill="#FABEC0"/>
<g fill="#fff" fill-opacity="0.42">
<rect x="443" y="22" width="1" height="11.3"/>
<rect x="366.5" y="32.8" width="77" height="1"/>
<rect x="498.5" y="22" width="1" height="11.3"/>
<rect x="443.5" y="32.8" width="55.5" height="1"/>
<rect x="721.6" y="22" width="1" height="11.3"/>
<rect x="666.25" y="32.8" width="55.85" height="1"/>
<rect x="777" y="22" width="1" height="11.3"/>
<rect x="722.1" y="32.8" width="55.4" height="1"/>
<rect x="833" y="22" width="1" height="11.3"/>
<rect x="777.5" y="32.8" width="56" height="1"/>
<rect x="944.5" y="22" width="1" height="11.3"/>
<rect x="889.5" y="32.8" width="55.5" height="1"/>
<rect x="1000.4" y="22" width="1" height="11.3"/>
<rect x="945" y="32.8" width="55.9" height="1"/>
<rect x="1055.75" y="22" width="1" height="11.3"/>
<rect x="1000.9" y="32.8" width="55.35" height="1"/>
<rect x="1111.6" y="22" width="1" height="11.3"/>
<rect x="1056.25" y="32.8" width="55.85" height="1"/>
<rect x="443" y="33.3" width="1" height="11.3"/>
<rect x="366.5" y="44.1" width="77" height="1"/>
<rect x="498.5" y="33.3" width="1" height="11.3"/>
<rect x="443.5" y="44.1" width="55.5" height="1"/>
<rect x="721.6" y="33.3" width="1" height="11.3"/>
<rect x="666.25" y="44.1" width="55.85" height="1"/>
<rect x="777" y="33.3" width="1" height="11.3"/>
<rect x="722.1" y="44.1" width="55.4" height="1"/>
<rect x="833" y="33.3" width="1" height="11.3"/>
<rect x="777.5" y="44.1" width="56" height="1"/>
<rect x="944.5" y="33.3" width="1" height="11.3"/>
<rect x="889.5" y="44.1" width="55.5" height="1"/>
<rect x="1000.4" y="33.3" width="1" height="11.3"/>
<rect x="945" y="44.1" width="55.9" height="1"/>
<rect x="1055.75" y="33.3" width="1" height="11.3"/>
<rect x="1000.9" y="44.1" width="55.35" height="1"/>
<rect x="1111.6" y="33.3" width="1" height="11.3"/>
<rect x="1056.25" y="44.1" width="55.85" height="1"/>
<rect x="443" y="44.6" width="1" height="11.3"/>
<rect x="366.5" y="55.4" width="77" height="1"/>
<rect x="498.5" y="44.6" width="1" height="11.3"/>
<rect x="443.5" y="55.4" width="55.5" height="1"/>
<rect x="721.6" y="44.6" width="1" height="11.3"/>
<rect x="666.25" y="55.4" width="55.85" height="1"/>
<rect x="777" y="44.6" width="1" height="11.3"/>
<rect x="722.1" y="55.4" width="55.4" height="1"/>
<rect x="833" y="44.6" width="1" height="11.3"/>
<rect x="777.5" y="55.4" width="56" height="1"/>
<rect x="944.5" y="44.6" width="1" height="11.3"/>
<rect x="889.5" y="55.4" width="55.5" height="1"/>
<rect x="1000.4" y="44.6" width="1" height="11.3"/>
<rect x="945" y="55.4" width="55.9" height="1"/>
<rect x="1055.75" y="44.6" width="1" height="11.3"/>
<rect x="1000.9" y="55.4" width="55.35" height="1"/>
<rect x="1111.6" y="44.6" width="1" height="11.3"/>
<rect x="1056.25" y="55.4" width="55.85" height="1"/>
<rect x="443" y="55.9" width="1" height="11.3"/>
<rect x="366.5" y="66.7" width="77" height="1"/>
<rect x="498.5" y="55.9" width="1" height="11.3"/>
<rect x="443.5" y="66.7" width="55.5" height="1"/>
<rect x="721.6" y="55.9" width="1" height="11.3"/>
<rect x="666.25" y="66.7" width="55.85" height="1"/>
<rect x="777" y="55.9" width="1" height="11.3"/>
<rect x="722.1" y="66.7" width="55.4" height="1"/>
<rect x="833" y="55.9" width="1" height="11.3"/>
<rect x="777.5" y="66.7" width="56" height="1"/>
<rect x="944.5" y="55.9" width="1" height="11.3"/>
<rect x="889.5" y="66.7" width="55.5" height="1"/>
<rect x="1000.4" y="55.9" width="1" height="11.3"/>
<rect x="945" y="66.7" width="55.9" height="1"/>
<rect x="1055.75" y="55.9" width="1" height="11.3"/>
<rect x="1000.9" y="66.7" width="55.35" height="1"/>
<rect x="1111.6" y="55.9" width="1" height="11.3"/>
<rect x="1056.25" y="66.7" width="55.85" height="1"/>
<rect x="443" y="67.2" width="1" height="11.3"/>
<rect x="366.5" y="78" width="77" height="1"/>
<rect x="498.5" y="67.2" width="1" height="11.3"/>
<rect x="443.5" y="78" width="55.5" height="1"/>
<rect x="721.6" y="67.2" width="1" height="11.3"/>
<rect x="666.25" y="78" width="55.85" height="1"/>
<rect x="777" y="67.2" width="1" height="11.3"/>
<rect x="722.1" y="78" width="55.4" height="1"/>
<rect x="833" y="67.2" width="1" height="11.3"/>
<rect x="777.5" y="78" width="56" height="1"/>
<rect x="944.5" y="67.2" width="1" height="11.3"/>
<rect x="889.5" y="78" width="55.5" height="1"/>
<rect x="1000.4" y="67.2" width="1" height="11.3"/>
<rect x="945" y="78" width="55.9" height="1"/>
<rect x="1055.75" y="67.2" width="1" height="11.3"/>
<rect x="1000.9" y="78" width="55.35" height="1"/>
<rect x="1111.6" y="67.2" width="1" height="11.3"/>
<rect x="1056.25" y="78" width="55.85" height="1"/>
<rect x="36" y="78.5" width="1" height="11.3"/>
<rect x="0" y="89.3" width="36.5" height="1"/>
<rect x="443" y="78.5" width="1" height="11.3"/>
<rect x="366.5" y="89.3" width="77" height="1"/>
<rect x="498.5" y="78.5" width="1" height="11.3"/>
<rect x="443.5" y="89.3" width="55.5" height="1"/>
<rect x="721.6" y="78.5" width="1" height="11.3"/>
<rect x="666.25" y="89.3" width="55.85" height="1"/>
<rect x="777" y="78.5" width="1" height="11.3"/>
<rect x="722.1" y="89.3" width="55.4" height="1"/>
<rect x="833" y="78.5" width="1" height="11.3"/>
<rect x="777.5" y="89.3" width="56" height="1"/>
<rect x="944.5" y="78.5" width="1" height="11.3"/>
<rect x="889.5" y="89.3" width="55.5" height="1"/>
<rect x="1000.4" y="78.5" width="1" height="11.3"/>
<rect x="945" y="89.3" width="55.9" height="1"/>
<rect x="1055.75" y="78.5" width="1" height="11.3"/>
<rect x="1000.9" y="89.3" width="55.35" height="1"/>
<rect x="1111.6" y="78.5" width="1" height="11.3"/>
<rect x="1056.25" y="89.3" width="55.85" height="1"/>
<rect x="443" y="89.8" width="1" height="11.3"/>
<rect x="366.5" y="100.6" width="77" height="1"/>
<rect x="498.5" y="89.8" width="1" height="11.3"/>
<rect x="443.5" y="100.6" width="55.5" height="1"/>
<rect x="721.6" y="89.8" width="1" height="11.3"/>
<rect x="666.25" y="100.6" width="55.85" height="1"/>
<rect x="777" y="89.8" width="1" height="11.3"/>
<rect x="722.1" y="100.6" width="55.4" height="1"/>
<rect x="833" y="89.8" width="1" height="11.3"/>
<rect x="777.5" y="100.6" width="56" height="1"/>
<rect x="944.5" y="89.8" width="1" height="11.3"/>
<rect x="889.5" y="100.6" width="55.5" height="1"/>
<rect x="1000.4" y="89.8" width="1" height="11.3"/>
<rect x="945" y="100.6" width="55.9" height="1"/>
<rect x="1055.75" y="89.8" width="1" height="11.3"/>
<rect x="1000.9" y="100.6" width="55.35" height="1"/>
<rect x="1111.6" y="89.8" width="1" height="11.3"/>
<rect x="1056.25" y="100.6" width="55.85" height="1"/>
<rect x="443" y="101.1" width="1" height="11.3"/>
<rect x="366.5" y="111.9" width="77" height="1"/>
<rect x="498.5" y="101.1" width="1" height="11.3"/>
<rect x="443.5" y="111.9" width="55.5" height="1"/>
<rect x="721.6" y="101.1" width="1" height="11.3"/>
<rect x="666.25" y="111.9" width="55.85" height="1"/>
<rect x="777" y="101.1" width="1" height="11.3"/>
<rect x="722.1" y="111.9" width="55.4" height="1"/>
<rect x="833" y="101.1" width="1" height="11.3"/>
<rect x="777.5" y="111.9" width="56" height="1"/>
<rect x="944.5" y="101.1" width="1" height="11.3"/>
<rect x="889.5" y="111.9" width="55.5" height="1"/>
<rect x="1000.4" y="101.1" width="1" height="11.3"/>
<rect x="945" y="111.9" width="55.9" height="1"/>
<rect x="1055.75" y="101.1" width="1" height="11.3"/>
<rect x="1000.9" y="111.9" width="55.35" height="1"/>
<rect x="1111.6" y="101.1" width="1" height="11.3"/>
<rect x="1056.25" y="111.9" width="55.85" height="1"/>
<rect x="443" y="112.4" width="1" height="11.3"/>
<rect x="366.5" y="123.2" width="77" height="1"/>
<rect x="498.5" y="112.4" width="1" height="11.3"/>
<rect x="443.5" y="123.2" width="55.5" height="1"/>
<rect x="721.6" y="112.4" width="1" height="11.3"/>
<rect x="666.25" y="123.2" width="55.85" height="1"/>
<rect x="777" y="112.4" width="1" height="11.3"/>
<rect x="722.1" y="123.2" width="55.4" height="1"/>
<rect x="833" y="112.4" width="1" height="11.3"/>
<rect x="777.5" y="123.2" width="56" height="1"/>
<rect x="944.5" y="112.4" width="1" height="11.3"/>
<rect x="889.5" y="123.2" width="55.5" height="1"/>
<rect x="1000.4" y="112.4" width="1" height="11.3"/>
<rect x="945" y="123.2" width="55.9" height="1"/>
<rect x="1055.75" y="112.4" width="1" height="11.3"/>
<rect x="1000.9" y="123.2" width="55.35" height="1"/>
<rect x="1111.6" y="112.4" width="1" height="11.3"/>
<rect x="1056.25" y="123.2" width="55.85" height="1"/>
<rect x="443" y="123.7" width="1" height="11.3"/>
<rect x="366.5" y="134.5" width="77" height="1"/>
<rect x="498.5" y="123.7" width="1" height="11.3"/>
<rect x="443.5" y="134.5" width="55.5" height="1"/>
<rect x="721.6" y="123.7" width="1" height="11.3"/>
<rect x="666.25" y="134.5" width="55.85" height="1"/>
<rect x="777" y="123.7" width="1" height="11.3"/>
<rect x="722.1" y="134.5" width="55.4" height="1"/>
<rect x="833" y="123.7" width="1" height="11.3"/>
<rect x="777.5" y="134.5" width="56" height="1"/>
<rect x="944.5" y="123.7" width="1" height="11.3"/>
<rect x="889.5" y="134.5" width="55.5" height="1"/>
<rect x="1000.4" y="123.7" width="1" height="11.3"/>
<rect x="945" y="134.5" width="55.9" height="1"/>
<rect x="1055.75" y="123.7" width="1" height="11.3"/>
<rect x="1000.9" y="134.5" width="55.35" height="1"/>
<rect x="1111.6" y="123.7" width="1" height="11.3"/>
<rect x="1056.25" y="134.5" width="55.85" height="1"/>
<rect x="443" y="135" width="1" height="11.3"/>
<rect x="366.5" y="145.8" width="77" height="1"/>
<rect x="498.5" y="135" width="1" height="11.3"/>
<rect x="443.5" y="145.8" width="55.5" height="1"/>
<rect x="721.6" y="135" width="1" height="11.3"/>
<rect x="666.25" y="145.8" width="55.85" height="1"/>
<rect x="777" y="135" width="1" height="11.3"/>
<rect x="722.1" y="145.8" width="55.4" height="1"/>
<rect x="833" y="135" width="1" height="11.3"/>
<rect x="777.5" y="145.8" width="56" height="1"/>
<rect x="944.5" y="135" width="1" height="11.3"/>
<rect x="889.5" y="145.8" width="55.5" height="1"/>
<rect x="1000.4" y="135" width="1" height="11.3"/>
<rect x="945" y="145.8" width="55.9" height="1"/>
<rect x="1055.75" y="135" width="1" height="11.3"/>
<rect x="1000.9" y="145.8" width="55.35" height="1"/>
<rect x="1111.6" y="135" width="1" height="11.3"/>
<rect x="1056.25" y="145.8" width="55.85" height="1"/>
<rect x="443" y="146.3" width="1" height="11.3"/>
<rect x="366.5" y="157.1" width="77" height="1"/>
<rect x="498.5" y="146.3" width="1" height="11.3"/>
<rect x="443.5" y="157.1" width="55.5" height="1"/>
<rect x="721.6" y="146.3" width="1" height="11.3"/>
<rect x="666.25" y="157.1" width="55.85" height="1"/>
<rect x="777" y="146.3" width="1" height="11.3"/>
<rect x="722.1" y="157.1" width="55.4" height="1"/>
<rect x="833" y="146.3" width="1" height="11.3"/>
<rect x="777.5" y="157.1" width="56" height="1"/>
<rect x="944.5" y="146.3" width="1" height="11.3"/>
<rect x="889.5" y="157.1" width="55.5" height="1"/>
<rect x="1000.4" y="146.3" width="1" height="11.3"/>
<rect x="945" y="157.1" width="55.9" height="1"/>
<rect x="1055.75" y="146.3" width="1" height="11.3"/>
<rect x="1000.9" y="157.1" width="55.35" height="1"/>
<rect x="1111.6" y="146.3" width="1" height="11.3"/>
<rect x="1056.25" y="157.1" width="55.85" height="1"/>
<rect x="443" y="157.6" width="1" height="11.3"/>
<rect x="366.5" y="168.4" width="77" height="1"/>
<rect x="498.5" y="157.6" width="1" height="11.3"/>
<rect x="443.5" y="168.4" width="55.5" height="1"/>
<rect x="721.6" y="157.6" width="1" height="11.3"/>
<rect x="666.25" y="168.4" width="55.85" height="1"/>
<rect x="777" y="157.6" width="1" height="11.3"/>
<rect x="722.1" y="168.4" width="55.4" height="1"/>
<rect x="833" y="157.6" width="1" height="11.3"/>
<rect x="777.5" y="168.4" width="56" height="1"/>
<rect x="944.5" y="157.6" width="1" height="11.3"/>
<rect x="889.5" y="168.4" width="55.5" height="1"/>
<rect x="1000.4" y="157.6" width="1" height="11.3"/>
<rect x="945" y="168.4" width="55.9" height="1"/>
<rect x="1055.75" y="157.6" width="1" height="11.3"/>
<rect x="1000.9" y="168.4" width="55.35" height="1"/>
<rect x="1111.6" y="157.6" width="1" height="11.3"/>
<rect x="1056.25" y="168.4" width="55.85" height="1"/>
<rect x="443" y="168.9" width="1" height="11.3"/>
<rect x="366.5" y="179.7" width="77" height="1"/>
<rect x="498.5" y="168.9" width="1" height="11.3"/>
<rect x="443.5" y="179.7" width="55.5" height="1"/>
<rect x="721.6" y="168.9" width="1" height="11.3"/>
<rect x="666.25" y="179.7" width="55.85" height="1"/>
<rect x="777" y="168.9" width="1" height="11.3"/>
<rect x="722.1" y="179.7" width="55.4" height="1"/>
<rect x="833" y="168.9" width="1" height="11.3"/>
<rect x="777.5" y="179.7" width="56" height="1"/>
<rect x="944.5" y="168.9" width="1" height="11.3"/>
<rect x="889.5" y="179.7" width="55.5" height="1"/>
<rect x="1000.4" y="168.9" width="1" height="11.3"/>
<rect x="945" y="179.7" width="55.9" height="1"/>
<rect x="1055.75" y="168.9" width="1" height="11.3"/>
<rect x="1000.9" y="179.7" width="55.35" height="1"/>
<rect x="1111.6" y="168.9" width="1" height="11.3"/>
<rect x="1056.25" y="179.7" width="55.85" height="1"/>
<rect x="443" y="180.2" width="1" height="11.3"/>
<rect x="366.5" y="191" width="77" height="1"/>
<rect x="498.5" y="180.2" width="1" height="11.3"/>
<rect x="443.5" y="191" width="55.5" height="1"/>
<rect x="721.6" y="180.2" width="1" height="11.3"/>
<rect x="666.25" y="191" width="55.85" height="1"/>
<rect x="777" y="180.2" width="1" height="11.3"/>
<rect x="722.1" y="191" width="55.4" height="1"/>
<rect x="833" y="180.2" width="1" height="11.3"/>
<rect x="777.5" y="191" width="56" height="1"/>
<rect x="944.5" y="180.2" width="1" height="11.3"/>
<rect x="889.5" y="191" width="55.5" height="1"/>
<rect x="1000.4" y="180.2" width="1" height="11.3"/>
<rect x="945" y="191" width="55.9" height="1"/>
<rect x="1055.75" y="180.2" width="1" height="11.3"/>
<rect x="1000.9" y="191" width="55.35" height="1"/>
<rect x="1111.6" y="180.2" width="1" height="11.3"/>
<rect x="1056.25" y="191" width="55.85" height="1"/>
<rect x="443" y="191.5" width="1" height="11.3"/>
<rect x="366.5" y="202.3" width="77" height="1"/>
<rect x="498.5" y="191.5" width="1" height="11.3"/>
<rect x="443.5" y="202.3" width="55.5" height="1"/>
<rect x="721.6" y="191.5" width="1" height="11.3"/>
<rect x="666.25" y="202.3" width="55.85" height="1"/>
<rect x="777" y="191.5" width="1" height="11.3"/>
<rect x="722.1" y="202.3" width="55.4" height="1"/>
<rect x="833" y="191.5" width="1" height="11.3"/>
<rect x="777.5" y="202.3" width="56" height="1"/>
<rect x="944.5" y="191.5" width="1" height="11.3"/>
<rect x="889.5" y="202.3" width="55.5" height="1"/>
<rect x="1000.4" y="191.5" width="1" height="11.3"/>
<rect x="945" y="202.3" width="55.9" height="1"/>
<rect x="1055.75" y="191.5" width="1" height="11.3"/>
<rect x="1000.9" y="202.3" width="55.35" height="1"/>
<rect x="1111.6" y="191.5" width="1" height="11.3"/>
<rect x="1056.25" y="202.3" width="55.85" height="1"/>
<rect x="443" y="202.8" width="1" height="11.3"/>
<rect x="366.5" y="213.6" width="77" height="1"/>
<rect x="498.5" y="202.8" width="1" height="11.3"/>
<rect x="443.5" y="213.6" width="55.5" height="1"/>
<rect x="721.6" y="202.8" width="1" height="11.3"/>
<rect x="666.25" y="213.6" width="55.85" height="1"/>
<rect x="777" y="202.8" width="1" height="11.3"/>
<rect x="722.1" y="213.6" width="55.4" height="1"/>
<rect x="833" y="202.8" width="1" height="11.3"/>
<rect x="777.5" y="213.6" width="56" height="1"/>
<rect x="944.5" y="202.8" width="1" height="11.3"/>
<rect x="889.5" y="213.6" width="55.5" height="1"/>
<rect x="1000.4" y="202.8" width="1" height="11.3"/>
<rect x="945" y="213.6" width="55.9" height="1"/>
<rect x="1055.75" y="202.8" width="1" height="11.3"/>
<rect x="1000.9" y="213.6" width="55.35" height="1"/>
<rect x="1111.6" y="202.8" width="1" height="11.3"/>
<rect x="1056.25" y="213.6" width="55.85" height="1"/>
<rect x="443" y="214.1" width="1" height="11.3"/>
<rect x="366.5" y="224.9" width="77" height="1"/>
<rect x="498.5" y="214.1" width="1" height="11.3"/>
<rect x="443.5" y="224.9" width="55.5" height="1"/>
<rect x="721.6" y="214.1" width="1" height="11.3"/>
<rect x="666.25" y="224.9" width="55.85" height="1"/>
<rect x="777" y="214.1" width="1" height="11.3"/>
<rect x="722.1" y="224.9" width="55.4" height="1"/>
<rect x="833" y="214.1" width="1" height="11.3"/>
<rect x="777.5" y="224.9" width="56" height="1"/>
<rect x="944.5" y="214.1" width="1" height="11.3"/>
<rect x="889.5" y="224.9" width="55.5" height="1"/>
<rect x="1000.4" y="214.1" width="1" height="11.3"/>
<rect x="945" y="224.9" width="55.9" height="1"/>
<rect x="1055.75" y="214.1" width="1" height="11.3"/>
<rect x="1000.9" y="224.9" width="55.35" height="1"/>
<rect x="1111.6" y="214.1" width="1" height="11.3"/>
<rect x="1056.25" y="224.9" width="55.85" height="1"/>
<rect x="443" y="225.4" width="1" height="11.3"/>
<rect x="366.5" y="236.2" width="77" height="1"/>
<rect x="498.5" y="225.4" width="1" height="11.3"/>
<rect x="443.5" y="236.2" width="55.5" height="1"/>
<rect x="721.6" y="225.4" width="1" height="11.3"/>
<rect x="666.25" y="236.2" width="55.85" height="1"/>
<rect x="777" y="225.4" width="1" height="11.3"/>
<rect x="722.1" y="236.2" width="55.4" height="1"/>
<rect x="833" y="225.4" width="1" height="11.3"/>
<rect x="777.5" y="236.2" width="56" height="1"/>
<rect x="944.5" y="225.4" width="1" height="11.3"/>
<rect x="889.5" y="236.2" width="55.5" height="1"/>
<rect x="1000.4" y="225.4" width="1" height="11.3"/>
<rect x="945" y="236.2" width="55.9" height="1"/>
<rect x="1055.75" y="225.4" width="1" height="11.3"/>
<rect x="1000.9" y="236.2" width="55.35" height="1"/>
<rect x="1111.6" y="225.4" width="1" height="11.3"/>
<rect x="1056.25" y="236.2" width="55.85" height="1"/>
<rect x="217" y="236.7" width="1" height="11.3"/>
<rect x="177.25" y="247.5" width="40.25" height="1"/>
<rect x="256" y="236.7" width="1" height="11.3"/>
<rect x="217.5" y="247.5" width="39" height="1"/>
<rect x="313" y="236.7" width="1" height="11.3"/>
<rect x="256.5" y="247.5" width="57" height="1"/>
<rect x="366" y="236.7" width="1" height="11.3"/>
<rect x="313.5" y="247.5" width="53" height="1"/>
<rect x="443" y="236.7" width="1" height="11.3"/>
<rect x="366.5" y="247.5" width="77" height="1"/>
<rect x="498.5" y="236.7" width="1" height="11.3"/>
<rect x="443.5" y="247.5" width="55.5" height="1"/>
<rect x="554" y="236.7" width="1" height="11.3"/>
<rect x="499" y="247.5" width="55.5" height="1"/>
<rect x="610" y="236.7" width="1" height="11.3"/>
<rect x="554.5" y="247.5" width="56" height="1"/>
<rect x="665.75" y="236.7" width="1" height="11.3"/>
<rect x="610.5" y="247.5" width="55.75" height="1"/>
<rect x="721.6" y="236.7" width="1" height="11.3"/>
<rect x="666.25" y="247.5" width="55.85" height="1"/>
<rect x="777" y="236.7" width="1" height="11.3"/>
<rect x="722.1" y="247.5" width="55.4" height="1"/>
<rect x="833" y="236.7" width="1" height="11.3"/>
<rect x="777.5" y="247.5" width="56" height="1"/>
<rect x="889" y="236.7" width="1" height="11.3"/>
<rect x="833.5" y="247.5" width="56" height="1"/>
<rect x="944.5" y="236.7" width="1" height="11.3"/>
<rect x="889.5" y="247.5" width="55.5" height="1"/>
<rect x="1000.4" y="236.7" width="1" height="11.3"/>
<rect x="945" y="247.5" width="55.9" height="1"/>
<rect x="1055.75" y="236.7" width="1" height="11.3"/>
<rect x="1000.9" y="247.5" width="55.35" height="1"/>
<rect x="1111.6" y="236.7" width="1" height="11.3"/>
<rect x="1056.25" y="247.5" width="55.85" height="1"/>
<rect x="1155.1" y="236.7" width="1" height="11.3"/>
<rect x="1112.1" y="247.5" width="43.5" height="1"/>
<rect x="1199.7" y="236.7" width="1" height="11.3"/>
<rect x="1155.6" y="247.5" width="44.6" height="1"/>
<rect x="443" y="248" width="1" height="11.3"/>
<rect x="366.5" y="258.8" width="77" height="1"/>
<rect x="498.5" y="248" width="1" height="11.3"/>
<rect x="443.5" y="258.8" width="55.5" height="1"/>
<rect x="721.6" y="248" width="1" height="11.3"/>
<rect x="666.25" y="258.8" width="55.85" height="1"/>
<rect x="777" y="248" width="1" height="11.3"/>
<rect x="722.1" y="258.8" width="55.4" height="1"/>
<rect x="833" y="248" width="1" height="11.3"/>
<rect x="777.5" y="258.8" width="56" height="1"/>
<rect x="944.5" y="248" width="1" height="11.3"/>
<rect x="889.5" y="258.8" width="55.5" height="1"/>
<rect x="1000.4" y="248" width="1" height="11.3"/>
<rect x="945" y="258.8" width="55.9" height="1"/>
<rect x="1055.75" y="248" width="1" height="11.3"/>
<rect x="1000.9" y="258.8" width="55.35" height="1"/>
<rect x="1111.6" y="248" width="1" height="11.3"/>
<rect x="1056.25" y="258.8" width="55.85" height="1"/>
<rect x="443" y="259.3" width="1" height="11.3"/>
<rect x="366.5" y="270.1" width="77" height="1"/>
<rect x="498.5" y="259.3" width="1" height="11.3"/>
<rect x="443.5" y="270.1" width="55.5" height="1"/>
<rect x="721.6" y="259.3" width="1" height="11.3"/>
<rect x="666.25" y="270.1" width="55.85" height="1"/>
<rect x="777" y="259.3" width="1" height="11.3"/>
<rect x="722.1" y="270.1" width="55.4" height="1"/>
<rect x="833" y="259.3" width="1" height="11.3"/>
<rect x="777.5" y="270.1" width="56" height="1"/>
<rect x="944.5" y="259.3" width="1" height="11.3"/>
<rect x="889.5" y="270.1" width="55.5" height="1"/>
<rect x="1000.4" y="259.3" width="1" height="11.3"/>
<rect x="945" y="270.1" width="55.9" height="1"/>
<rect x="1055.75" y="259.3" width="1" height="11.3"/>
<rect x="1000.9" y="270.1" width="55.35" height="1"/>
<rect x="1111.6" y="259.3" width="1" height="11.3"/>
<rect x="1056.25" y="270.1" width="55.85" height="1"/>
<rect x="443" y="270.6" width="1" height="11.3"/>
<rect x="366.5" y="281.4" width="77" height="1"/>
<rect x="498.5" y="270.6" width="1" height="11.3"/>
<rect x="443.5" y="281.4" width="55.5" height="1"/>
<rect x="721.6" y="270.6" width="1" height="11.3"/>
<rect x="666.25" y="281.4" width="55.85" height="1"/>
<rect x="777" y="270.6" width="1" height="11.3"/>
<rect x="722.1" y="281.4" width="55.4" height="1"/>
<rect x="833" y="270.6" width="1" height="11.3"/>
<rect x="777.5" y="281.4" width="56" height="1"/>
<rect x="944.5" y="270.6" width="1" height="11.3"/>
<rect x="889.5" y="281.4" width="55.5" height="1"/>
<rect x="1000.4" y="270.6" width="1" height="11.3"/>
<rect x="945" y="281.4" width="55.9" height="1"/>
<rect x="1055.75" y="270.6" width="1" height="11.3"/>
<rect x="1000.9" y="281.4" width="55.35" height="1"/>
<rect x="1111.6" y="270.6" width="1" height="11.3"/>
<rect x="1056.25" y="281.4" width="55.85" height="1"/>
<rect x="443" y="281.9" width="1" height="11.3"/>
<rect x="366.5" y="292.7" width="77" height="1"/>
<rect x="498.5" y="281.9" width="1" height="11.3"/>
<rect x="443.5" y="292.7" width="55.5" height="1"/>
<rect x="721.6" y="281.9" width="1" height="11.3"/>
<rect x="666.25" y="292.7" width="55.85" height="1"/>
<rect x="777" y="281.9" width="1" height="11.3"/>
<rect x="722.1" y="292.7" width="55.4" height="1"/>
<rect x="833" y="281.9" width="1" height="11.3"/>
<rect x="777.5" y="292.7" width="56" height="1"/>
<rect x="944.5" y="281.9" width="1" height="11.3"/>
<rect x="889.5" y="292.7" width="55.5" height="1"/>
<rect x="1000.4" y="281.9" width="1" height="11.3"/>
<rect x="945" y="292.7" width="55.9" height="1"/>
<rect x="1055.75" y="281.9" width="1" height="11.3"/>
<rect x="1000.9" y="292.7" width="55.35" height="1"/>
<rect x="1111.6" y="281.9" width="1" height="11.3"/>
<rect x="1056.25" y="292.7" width="55.85" height="1"/>
<rect x="443" y="293.2" width="1" height="11.3"/>
<rect x="366.5" y="304" width="77" height="1"/>
<rect x="498.5" y="293.2" width="1" height="11.3"/>
<rect x="443.5" y="304" width="55.5" height="1"/>
<rect x="721.6" y="293.2" width="1" height="11.3"/>
<rect x="666.25" y="304" width="55.85" height="1"/>
<rect x="777" y="293.2" width="1" height="11.3"/>
<rect x="722.1" y="304" width="55.4" height="1"/>
<rect x="833" y="293.2" width="1" height="11.3"/>
<rect x="777.5" y="304" width="56" height="1"/>
<rect x="944.5" y="293.2" width="1" height="11.3"/>
<rect x="889.5" y="304" width="55.5" height="1"/>
<rect x="1000.4" y="293.2" width="1" height="11.3"/>
<rect x="945" y="304" width="55.9" height="1"/>
<rect x="1055.75" y="293.2" width="1" height="11.3"/>
<rect x="1000.9" y="304" width="55.35" height="1"/>
<rect x="1111.6" y="293.2" width="1" height="11.3"/>
<rect x="1056.25" y="304" width="55.85" height="1"/>
<rect x="443" y="304.5" width="1" height="11.3"/>
<rect x="366.5" y="315.3" width="77" height="1"/>
<rect x="498.5" y="304.5" width="1" height="11.3"/>
<rect x="443.5" y="315.3" width="55.5" height="1"/>
<rect x="721.6" y="304.5" width="1" height="11.3"/>
<rect x="666.25" y="315.3" width="55.85" height="1"/>
<rect x="777" y="304.5" width="1" height="11.3"/>
<rect x="722.1" y="315.3" width="55.4" height="1"/>
<rect x="833" y="304.5" width="1" height="11.3"/>
<rect x="777.5" y="315.3" width="56" height="1"/>
<rect x="944.5" y="304.5" width="1" height="11.3"/>
<rect x="889.5" y="315.3" width="55.5" height="1"/>
<rect x="1000.4" y="304.5" width="1" height="11.3"/>
<rect x="945" y="315.3" width="55.9" height="1"/>
<rect x="1055.75" y="304.5" width="1" height="11.3"/>
<rect x="1000.9" y="315.3" width="55.35" height="1"/>
<rect x="1111.6" y="304.5" width="1" height="11.3"/>
<rect x="1056.25" y="315.3" width="55.85" height="1"/>
<rect x="443" y="315.8" width="1" height="11.3"/>
<rect x="366.5" y="326.6" width="77" height="1"/>
<rect x="498.5" y="315.8" width="1" height="11.3"/>
<rect x="443.5" y="326.6" width="55.5" height="1"/>
<rect x="721.6" y="315.8" width="1" height="11.3"/>
<rect x="666.25" y="326.6" width="55.85" height="1"/>
<rect x="777" y="315.8" width="1" height="11.3"/>
<rect x="722.1" y="326.6" width="55.4" height="1"/>
<rect x="833" y="315.8" width="1" height="11.3"/>
<rect x="777.5" y="326.6" width="56" height="1"/>
<rect x="944.5" y="315.8" width="1" height="11.3"/>
<rect x="889.5" y="326.6" width="55.5" height="1"/>
<rect x="1000.4" y="315.8" width="1" height="11.3"/>
<rect x="945" y="326.6" width="55.9" height="1"/>
<rect x="1055.75" y="315.8" width="1" height="11.3"/>
<rect x="1000.9" y="326.6" width="55.35" height="1"/>
<rect x="1111.6" y="315.8" width="1" height="11.3"/>
<rect x="1056.25" y="326.6" width="55.85" height="1"/>
<rect x="443" y="327.1" width="1" height="11.3"/>
<rect x="366.5" y="337.9" width="77" height="1"/>
<rect x="498.5" y="327.1" width="1" height="11.3"/>
<rect x="443.5" y="337.9" width="55.5" height="1"/>
<rect x="721.6" y="327.1" width="1" height="11.3"/>
<rect x="666.25" y="337.9" width="55.85" height="1"/>
<rect x="777" y="327.1" width="1" height="11.3"/>
<rect x="722.1" y="337.9" width="55.4" height="1"/>
<rect x="833" y="327.1" width="1" height="11.3"/>
<rect x="777.5" y="337.9" width="56" height="1"/>
<rect x="944.5" y="327.1" width="1" height="11.3"/>
<rect x="889.5" y="337.9" width="55.5" height="1"/>
<rect x="1000.4" y="327.1" width="1" height="11.3"/>
<rect x="945" y="337.9" width="55.9" height="1"/>
<rect x="1055.75" y="327.1" width="1" height="11.3"/>
<rect x="1000.9" y="337.9" width="55.35" height="1"/>
<rect x="1111.6" y="327.1" width="1" height="11.3"/>
<rect x="1056.25" y="337.9" width="55.85" height="1"/>
<rect x="443" y="338.4" width="1" height="11.3"/>
<rect x="366.5" y="349.2" width="77" height="1"/>
<rect x="498.5" y="338.4" width="1" height="11.3"/>
<rect x="443.5" y="349.2" width="55.5" height="1"/>
<rect x="721.6" y="338.4" width="1" height="11.3"/>
<rect x="666.25" y="349.2" width="55.85" height="1"/>
<rect x="777" y="338.4" width="1" height="11.3"/>
<rect x="722.1" y="349.2" width="55.4" height="1"/>
<rect x="833" y="338.4" width="1" height="11.3"/>
<rect x="777.5" y="349.2" width="56" height="1"/>
<rect x="944.5" y="338.4" width="1" height="11.3"/>
<rect x="889.5" y="349.2" width="55.5" height="1"/>
<rect x="1000.4" y="338.4" width="1" height="11.3"/>
<rect x="945" y="349.2" width="55.9" height="1"/>
<rect x="1055.75" y="338.4" width="1" height="11.3"/>
<rect x="1000.9" y="349.2" width="55.35" height="1"/>
<rect x="1111.6" y="338.4" width="1" height="11.3"/>
<rect x="1056.25" y="349.2" width="55.85" height="1"/>
<rect x="443" y="349.7" width="1" height="11.3"/>
<rect x="366.5" y="360.5" width="77" height="1"/>
<rect x="498.5" y="349.7" width="1" height="11.3"/>
<rect x="443.5" y="360.5" width="55.5" height="1"/>
<rect x="721.6" y="349.7" width="1" height="11.3"/>
<rect x="666.25" y="360.5" width="55.85" height="1"/>
<rect x="777" y="349.7" width="1" height="11.3"/>
<rect x="722.1" y="360.5" width="55.4" height="1"/>
<rect x="833" y="349.7" width="1" height="11.3"/>
<rect x="777.5" y="360.5" width="56" height="1"/>
<rect x="944.5" y="349.7" width="1" height="11.3"/>
<rect x="889.5" y="360.5" width="55.5" height="1"/>
<rect x="1000.4" y="349.7" width="1" height="11.3"/>
<rect x="945" y="360.5" width="55.9" height="1"/>
<rect x="1055.75" y="349.7" width="1" height="11.3"/>
<rect x="1000.9" y="360.5" width="55.35" height="1"/>
<rect x="1111.6" y="349.7" width="1" height="11.3"/>
<rect x="1056.25" y="360.5" width="55.85" height="1"/>
<rect x="443" y="361" width="1" height="11.3"/>
<rect x="366.5" y="371.8" width="77" height="1"/>
<rect x="498.5" y="361" width="1" height="11.3"/>
<rect x="443.5" y="371.8" width="55.5" height="1"/>
<rect x="721.6" y="361" width="1" height="11.3"/>
<rect x="666.25" y="371.8" width="55.85" height="1"/>
<rect x="777" y="361" width="1" height="11.3"/>
<rect x="722.1" y="371.8" width="55.4" height="1"/>
<rect x="833" y="361" width="1" height="11.3"/>
<rect x="777.5" y="371.8" width="56" height="1"/>
<rect x="944.5" y="361" width="1" height="11.3"/>
<rect x="889.5" y="371.8" width="55.5" height="1"/>
<rect x="1000.4" y="361" width="1" height="11.3"/>
<rect x="945" y="371.8" width="55.9" height="1"/>
<rect x="1055.75" y="361" width="1" height="11.3"/>
<rect x="1000.9" y="371.8" width="55.35" height="1"/>
<rect x="1111.6" y="361" width="1" height="11.3"/>
<rect x="1056.25" y="371.8" width="55.85" height="1"/>
<rect x="443" y="372.3" width="1" height="11.3"/>
<rect x="366.5" y="383.1" width="77" height="1"/>
<rect x="498.5" y="372.3" width="1" height="11.3"/>
<rect x="443.5" y="383.1" width="55.5" height="1"/>
<rect x="721.6" y="372.3" width="1" height="11.3"/>
<rect x="666.25" y="383.1" width="55.85" height="1"/>
<rect x="777" y="372.3" width="1" height="11.3"/>
<rect x="722.1" y="383.1" width="55.4" height="1"/>
<rect x="833" y="372.3" width="1" height="11.3"/>
<rect x="777.5" y="383.1" width="56" height="1"/>
<rect x="944.5" y="372.3" width="1" height="11.3"/>
<rect x="889.5" y="383.1" width="55.5" height="1"/>
<rect x="1000.4" y="372.3" width="1" height="11.3"/>
<rect x="945" y="383.1" width="55.9" height="1"/>
<rect x="1055.75" y="372.3" width="1" height="11.3"/>
<rect x="1000.9" y="383.1" width="55.35" height="1"/>
<rect x="1111.6" y="372.3" width="1" height="11.3"/>
<rect x="1056.25" y="383.1" width="55.85" height="1"/>
<rect x="443" y="383.6" width="1" height="11.3"/>
<rect x="366.5" y="394.4" width="77" height="1"/>
<rect x="498.5" y="383.6" width="1" height="11.3"/>
<rect x="443.5" y="394.4" width="55.5" height="1"/>
<rect x="721.6" y="383.6" width="1" height="11.3"/>
<rect x="666.25" y="394.4" width="55.85" height="1"/>
<rect x="777" y="383.6" width="1" height="11.3"/>
<rect x="722.1" y="394.4" width="55.4" height="1"/>
<rect x="833" y="383.6" width="1" height="11.3"/>
<rect x="777.5" y="394.4" width="56" height="1"/>
<rect x="944.5" y="383.6" width="1" height="11.3"/>
<rect x="889.5" y="394.4" width="55.5" height="1"/>
<rect x="1000.4" y="383.6" width="1" height="11.3"/>
<rect x="945" y="394.4" width="55.9" height="1"/>
<rect x="1055.75" y="383.6" width="1" height="11.3"/>
<rect x="1000.9" y="394.4" width="55.35" height="1"/>
<rect x="1111.6" y="383.6" width="1" height="11.3"/>
<rect x="1056.25" y="394.4" width="55.85" height="1"/>
<rect x="443" y="394.9" width="1" height="11.3"/>
<rect x="366.5" y="405.7" width="77" height="1"/>
<rect x="498.5" y="394.9" width="1" height="11.3"/>
<rect x="443.5" y="405.7" width="55.5" height="1"/>
<rect x="721.6" y="394.9" width="1" height="11.3"/>
<rect x="666.25" y="405.7" width="55.85" height="1"/>
<rect x="777" y="394.9" width="1" height="11.3"/>
<rect x="722.1" y="405.7" width="55.4" height="1"/>
<rect x="833" y="394.9" width="1" height="11.3"/>
<rect x="777.5" y="405.7" width="56" height="1"/>
<rect x="944.5" y="394.9" width="1" height="11.3"/>
<rect x="889.5" y="405.7" width="55.5" height="1"/>
<rect x="1000.4" y="394.9" width="1" height="11.3"/>
<rect x="945" y="405.7" width="55.9" height="1"/>
<rect x="1055.75" y="394.9" width="1" height="11.3"/>
<rect x="1000.9" y="405.7" width="55.35" height="1"/>
<rect x="1111.6" y="394.9" width="1" height="11.3"/>
<rect x="1056.25" y="405.7" width="55.85" height="1"/>
<rect x="443" y="406.2" width="1" height="11.3"/>
<rect x="366.5" y="417" width="77" height="1"/>
<rect x="498.5" y="406.2" width="1" height="11.3"/>
<rect x="443.5" y="417" width="55.5" height="1"/>
<rect x="721.6" y="406.2" width="1" height="11.3"/>
<rect x="666.25" y="417" width="55.85" height="1"/>
<rect x="777" y="406.2" width="1" height="11.3"/>
<rect x="722.1" y="417" width="55.4" height="1"/>
<rect x="833" y="406.2" width="1" height="11.3"/>
<rect x="777.5" y="417" width="56" height="1"/>
<rect x="944.5" y="406.2" width="1" height="11.3"/>
<rect x="889.5" y="417" width="55.5" height="1"/>
<rect x="1000.4" y="406.2" width="1" height="11.3"/>
<rect x="945" y="417" width="55.9" height="1"/>
<rect x="1055.75" y="406.2" width="1" height="11.3"/>
<rect x="1000.9" y="417" width="55.35" height="1"/>
<rect x="1111.6" y="406.2" width="1" height="11.3"/>
<rect x="1056.25" y="417" width="55.85" height="1"/>
<rect x="443" y="417.5" width="1" height="11.3"/>
<rect x="366.5" y="428.3" width="77" height="1"/>
<rect x="498.5" y="417.5" width="1" height="11.3"/>
<rect x="443.5" y="428.3" width="55.5" height="1"/>
<rect x="721.6" y="417.5" width="1" height="11.3"/>
<rect x="666.25" y="428.3" width="55.85" height="1"/>
<rect x="777" y="417.5" width="1" height="11.3"/>
<rect x="722.1" y="428.3" width="55.4" height="1"/>
<rect x="833" y="417.5" width="1" height="11.3"/>
<rect x="777.5" y="428.3" width="56" height="1"/>
<rect x="944.5" y="417.5" width="1" height="11.3"/>
<rect x="889.5" y="428.3" width="55.5" height="1"/>
<rect x="1000.4" y="417.5" width="1" height="11.3"/>
<rect x="945" y="428.3" width="55.9" height="1"/>
<rect x="1055.75" y="417.5" width="1" height="11.3"/>
<rect x="1000.9" y="428.3" width="55.35" height="1"/>
<rect x="1111.6" y="417.5" width="1" height="11.3"/>
<rect x="1056.25" y="428.3" width="55.85" height="1"/>
<rect x="443" y="428.8" width="1" height="11.3"/>
<rect x="366.5" y="439.6" width="77" height="1"/>
<rect x="498.5" y="428.8" width="1" height="11.3"/>
<rect x="443.5" y="439.6" width="55.5" height="1"/>
<rect x="721.6" y="428.8" width="1" height="11.3"/>
<rect x="666.25" y="439.6" width="55.85" height="1"/>
<rect x="777" y="428.8" width="1" height="11.3"/>
<rect x="722.1" y="439.6" width="55.4" height="1"/>
<rect x="833" y="428.8" width="1" height="11.3"/>
<rect x="777.5" y="439.6" width="56" height="1"/>
<rect x="944.5" y="428.8" width="1" height="11.3"/>
<rect x="889.5" y="439.6" width="55.5" height="1"/>
<rect x="1000.4" y="428.8" width="1" height="11.3"/>
<rect x="945" y="439.6" width="55.9" height="1"/>
<rect x="1055.75" y="428.8" width="1" height="11.3"/>
<rect x="1000.9" y="439.6" width="55.35" height="1"/>
<rect x="1111.6" y="428.8" width="1" height="11.3"/>
<rect x="1056.25" y="439.6" width="55.85" height="1"/>
<rect x="443" y="440.1" width="1" height="11.3"/>
<rect x="366.5" y="450.9" width="77" height="1"/>
<rect x="498.5" y="440.1" width="1" height="11.3"/>
<rect x="443.5" y="450.9" width="55.5" height="1"/>
<rect x="721.6" y="440.1" width="1" height="11.3"/>
<rect x="666.25" y="450.9" width="55.85" height="1"/>
<rect x="777" y="440.1" width="1" height="11.3"/>
<rect x="722.1" y="450.9" width="55.4" height="1"/>
<rect x="833" y="440.1" width="1" height="11.3"/>
<rect x="777.5" y="450.9" width="56" height="1"/>
<rect x="944.5" y="440.1" width="1" height="11.3"/>
<rect x="889.5" y="450.9" width="55.5" height="1"/>
<rect x="1000.4" y="440.1" width="1" height="11.3"/>
<rect x="945" y="450.9" width="55.9" height="1"/>
<rect x="1055.75" y="440.1" width="1" height="11.3"/>
<rect x="1000.9" y="450.9" width="55.35" height="1"/>
<rect x="1111.6" y="440.1" width="1" height="11.3"/>
<rect x="1056.25" y="450.9" width="55.85" height="1"/>
<rect x="443" y="451.4" width="1" height="11.3"/>
<rect x="366.5" y="462.2" width="77" height="1"/>
<rect x="498.5" y="451.4" width="1" height="11.3"/>
<rect x="443.5" y="462.2" width="55.5" height="1"/>
<rect x="721.6" y="451.4" width="1" height="11.3"/>
<rect x="666.25" y="462.2" width="55.85" height="1"/>
<rect x="777" y="451.4" width="1" height="11.3"/>
<rect x="722.1" y="462.2" width="55.4" height="1"/>
<rect x="833" y="451.4" width="1" height="11.3"/>
<rect x="777.5" y="462.2" width="56" height="1"/>
<rect x="944.5" y="451.4" width="1" height="11.3"/>
<rect x="889.5" y="462.2" width="55.5" height="1"/>
<rect x="1000.4" y="451.4" width="1" height="11.3"/>
<rect x="945" y="462.2" width="55.9" height="1"/>
<rect x="1055.75" y="451.4" width="1" height="11.3"/>
<rect x="1000.9" y="462.2" width="55.35" height="1"/>
<rect x="1111.6" y="451.4" width="1" height="11.3"/>
<rect x="1056.25" y="462.2" width="55.85" height="1"/>
<rect x="443" y="462.7" width="1" height="11.3"/>
<rect x="366.5" y="473.5" width="77" height="1"/>
<rect x="498.5" y="462.7" width="1" height="11.3"/>
<rect x="443.5" y="473.5" width="55.5" height="1"/>
<rect x="721.6" y="462.7" width="1" height="11.3"/>
<rect x="666.25" y="473.5" width="55.85" height="1"/>
<rect x="777" y="462.7" width="1" height="11.3"/>
<rect x="722.1" y="473.5" width="55.4" height="1"/>
<rect x="833" y="462.7" width="1" height="11.3"/>
<rect x="777.5" y="473.5" width="56" height="1"/>
<rect x="944.5" y="462.7" width="1" height="11.3"/>
<rect x="889.5" y="473.5" width="55.5" height="1"/>
<rect x="1000.4" y="462.7" width="1" height="11.3"/>
<rect x="945" y="473.5" width="55.9" height="1"/>
<rect x="1055.75" y="462.7" width="1" height="11.3"/>
<rect x="1000.9" y="473.5" width="55.35" height="1"/>
<rect x="1111.6" y="462.7" width="1" height="11.3"/>
<rect x="1056.25" y="473.5" width="55.85" height="1"/>
<rect x="443" y="474" width="1" height="11.3"/>
<rect x="366.5" y="484.8" width="77" height="1"/>
<rect x="498.5" y="474" width="1" height="11.3"/>
<rect x="443.5" y="484.8" width="55.5" height="1"/>
<rect x="721.6" y="474" width="1" height="11.3"/>
<rect x="666.25" y="484.8" width="55.85" height="1"/>
<rect x="777" y="474" width="1" height="11.3"/>
<rect x="722.1" y="484.8" width="55.4" height="1"/>
<rect x="833" y="474" width="1" height="11.3"/>
<rect x="777.5" y="484.8" width="56" height="1"/>
<rect x="944.5" y="474" width="1" height="11.3"/>
<rect x="889.5" y="484.8" width="55.5" height="1"/>
<rect x="1000.4" y="474" width="1" height="11.3"/>
<rect x="945" y="484.8" width="55.9" height="1"/>
<rect x="1055.75" y="474" width="1" height="11.3"/>
<rect x="1000.9" y="484.8" width="55.35" height="1"/>
<rect x="1111.6" y="474" width="1" height="11.3"/>
<rect x="1056.25" y="484.8" width="55.85" height="1"/>
<rect x="443" y="485.3" width="1" height="11.3"/>
<rect x="366.5" y="496.1" width="77" height="1"/>
<rect x="498.5" y="485.3" width="1" height="11.3"/>
<rect x="443.5" y="496.1" width="55.5" height="1"/>
<rect x="721.6" y="485.3" width="1" height="11.3"/>
<rect x="666.25" y="496.1" width="55.85" height="1"/>
<rect x="777" y="485.3" width="1" height="11.3"/>
<rect x="722.1" y="496.1" width="55.4" height="1"/>
<rect x="833" y="485.3" width="1" height="11.3"/>
<rect x="777.5" y="496.1" width="56" height="1"/>
<rect x="944.5" y="485.3" width="1" height="11.3"/>
<rect x="889.5" y="496.1" width="55.5" height="1"/>
<rect x="1000.4" y="485.3" width="1" height="11.3"/>
<rect x="945" y="496.1" width="55.9" height="1"/>
<rect x="1055.75" y="485.3" width="1" height="11.3"/>
<rect x="1000.9" y="496.1" width="55.35" height="1"/>
<rect x="1111.6" y="485.3" width="1" height="11.3"/>
<rect x="1056.25" y="496.1" width="55.85" height="1"/>
<rect x="443" y="496.6" width="1" height="11.3"/>
<rect x="366.5" y="507.4" width="77" height="1"/>
<rect x="498.5" y="496.6" width="1" height="11.3"/>
<rect x="443.5" y="507.4" width="55.5" height="1"/>
<rect x="721.6" y="496.6" width="1" height="11.3"/>
<rect x="666.25" y="507.4" width="55.85" height="1"/>
<rect x="777" y="496.6" width="1" height="11.3"/>
<rect x="722.1" y="507.4" width="55.4" height="1"/>
<rect x="833" y="496.6" width="1" height="11.3"/>
<rect x="777.5" y="507.4" width="56" height="1"/>
<rect x="944.5" y="496.6" width="1" height="11.3"/>
<rect x="889.5" y="507.4" width="55.5" height="1"/>
<rect x="1000.4" y="496.6" width="1" height="11.3"/>
<rect x="945" y="507.4" width="55.9" height="1"/>
<rect x="1055.75" y="496.6" width="1" height="11.3"/>
<rect x="1000.9" y="507.4" width="55.35" height="1"/>
<rect x="1111.6" y="496.6" width="1" height="11.3"/>
<rect x="1056.25" y="507.4" width="55.85" height="1"/>
<rect x="443" y="507.9" width="1" height="11.3"/>
<rect x="366.5" y="518.7" width="77" height="1"/>
<rect x="498.5" y="507.9" width="1" height="11.3"/>
<rect x="443.5" y="518.7" width="55.5" height="1"/>
<rect x="721.6" y="507.9" width="1" height="11.3"/>
<rect x="666.25" y="518.7" width="55.85" height="1"/>
<rect x="777" y="507.9" width="1" height="11.3"/>
<rect x="722.1" y="518.7" width="55.4" height="1"/>
<rect x="833" y="507.9" width="1" height="11.3"/>
<rect x="777.5" y="518.7" width="56" height="1"/>
<rect x="944.5" y="507.9" width="1" height="11.3"/>
<rect x="889.5" y="518.7" width="55.5" height="1"/>
<rect x="1000.4" y="507.9" width="1" height="11.3"/>
<rect x="945" y="518.7" width="55.9" height="1"/>
<rect x="1055.75" y="507.9" width="1" height="11.3"/>
<rect x="1000.9" y="518.7" width="55.35" height="1"/>
<rect x="1111.6" y="507.9" width="1" height="11.3"/>
<rect x="1056.25" y="518.7" width="55.85" height="1"/>
<rect x="443" y="519.2" width="1" height="11.3"/>
<rect x="366.5" y="530" width="77" height="1"/>
<rect x="498.5" y="519.2" width="1" height="11.3"/>
<rect x="443.5" y="530" width="55.5" height="1"/>
<rect x="721.6" y="519.2" width="1" height="11.3"/>
<rect x="666.25" y="530" width="55.85" height="1"/>
<rect x="777" y="519.2" width="1" height="11.3"/>
<rect x="722.1" y="530" width="55.4" height="1"/>
<rect x="833" y="519.2" width="1" height="11.3"/>
<rect x="777.5" y="530" width="56" height="1"/>
<rect x="944.5" y="519.2" width="1" height="11.3"/>
<rect x="889.5" y="530" width="55.5" height="1"/>
<rect x="1000.4" y="519.2" width="1" height="11.3"/>
<rect x="945" y="530" width="55.9" height="1"/>
<rect x="1055.75" y="519.2" width="1" height="11.3"/>
<rect x="1000.9" y="530" width="55.35" height="1"/>
<rect x="1111.6" y="519.2" width="1" height="11.3"/>
<rect x="1056.25" y="530" width="55.85" height="1"/>
<rect x="443" y="530.5" width="1" height="11.3"/>
<rect x="366.5" y="541.3" width="77" height="1"/>
<rect x="498.5" y="530.5" width="1" height="11.3"/>
<rect x="443.5" y="541.3" width="55.5" height="1"/>
<rect x="721.6" y="530.5" width="1" height="11.3"/>
<rect x="666.25" y="541.3" width="55.85" height="1"/>
<rect x="777" y="530.5" width="1" height="11.3"/>
<rect x="722.1" y="541.3" width="55.4" height="1"/>
<rect x="833" y="530.5" width="1" height="11.3"/>
<rect x="777.5" y="541.3" width="56" height="1"/>
<rect x="944.5" y="530.5" width="1" height="11.3"/>
<rect x="889.5" y="541.3" width="55.5" height="1"/>
<rect x="1000.4" y="530.5" width="1" height="11.3"/>
<rect x="945" y="541.3" width="55.9" height="1"/>
<rect x="1055.75" y="530.5" width="1" height="11.3"/>
<rect x="1000.9" y="541.3" width="55.35" height="1"/>
<rect x="1111.6" y="530.5" width="1" height="11.3"/>
<rect x="1056.25" y="541.3" width="55.85" height="1"/>
</g>
<rect x="0" y="21.4" width="1200" height="1.2" fill="#A8A8A8"/>
<rect x="171.25" y="15.5" width="5.5" height="5.7" rx="0.6" fill="#fff" stroke="#B8B8B8" stroke-width="0.5"/>
<path d="M172.75 18h2.5l-1.25 1.5z" fill="#2A2A2A"/>
<rect x="211.5" y="15.5" width="5.5" height="5.7" rx="0.6" fill="#fff" stroke="#B8B8B8" stroke-width="0.5"/>
<path d="M213 18h2.5l-1.25 1.5z" fill="#2A2A2A"/>
<rect x="250.5" y="15.5" width="5.5" height="5.7" rx="0.6" fill="#fff" stroke="#B8B8B8" stroke-width="0.5"/>
<path d="M252 18h2.5l-1.25 1.5z" fill="#2A2A2A"/>
<rect x="307.5" y="15.5" width="5.5" height="5.7" rx="0.6" fill="#fff" stroke="#B8B8B8" stroke-width="0.5"/>
<path d="M309 18h2.5l-1.25 1.5z" fill="#2A2A2A"/>
<rect x="360.5" y="15.5" width="5.5" height="5.7" rx="0.6" fill="#fff" stroke="#B8B8B8" stroke-width="0.5"/>
<path d="M362 18h2.5l-1.25 1.5z" fill="#2A2A2A"/>
<rect x="437.5" y="15.5" width="5.5" height="5.7" rx="0.6" fill="#fff" stroke="#B8B8B8" stroke-width="0.5"/>
<path d="M439 18h2.5l-1.25 1.5z" fill="#2A2A2A"/>
<rect x="493" y="15.5" width="5.5" height="5.7" rx="0.6" fill="#fff" stroke="#B8B8B8" stroke-width="0.5"/>
<path d="M494.5 18h2.5l-1.25 1.5z" fill="#2A2A2A"/>
<rect x="548.5" y="15.5" width="5.5" height="5.7" rx="0.6" fill="#fff" stroke="#B8B8B8" stroke-width="0.5"/>
<path d="M550 18h2.5l-1.25 1.5z" fill="#2A2A2A"/>
<rect x="604.5" y="15.5" width="5.5" height="5.7" rx="0.6" fill="#fff" stroke="#B8B8B8" stroke-width="0.5"/>
<path d="M606 18h2.5l-1.25 1.5z" fill="#2A2A2A"/>
<rect x="660.25" y="15.5" width="5.5" height="5.7" rx="0.6" fill="#fff" stroke="#B8B8B8" stroke-width="0.5"/>
<path d="M661.75 18h2.5l-1.25 1.5z" fill="#2A2A2A"/>
<rect x="716.1" y="15.5" width="5.5" height="5.7" rx="0.6" fill="#fff" stroke="#B8B8B8" stroke-width="0.5"/>
<path d="M717.6 18h2.5l-1.25 1.5z" fill="#2A2A2A"/>
<rect x="771.5" y="15.5" width="5.5" height="5.7" rx="0.6" fill="#fff" stroke="#B8B8B8" stroke-width="0.5"/>
<path d="M773 18h2.5l-1.25 1.5z" fill="#2A2A2A"/>
<rect x="827.5" y="15.5" width="5.5" height="5.7" rx="0.6" fill="#fff" stroke="#B8B8B8" stroke-width="0.5"/>
<path d="M831.35 17v2.6h-2.2m0.9 -0.9l-0.9 0.9l0.9 0.9" fill="none" stroke="#444" stroke-width="0.55"/>
<rect x="883.5" y="15.5" width="5.5" height="5.7" rx="0.6" fill="#fff" stroke="#B8B8B8" stroke-width="0.5"/>
<path d="M885 18h2.5l-1.25 1.5z" fill="#2A2A2A"/>
<rect x="939" y="15.5" width="5.5" height="5.7" rx="0.6" fill="#fff" stroke="#B8B8B8" stroke-width="0.5"/>
<path d="M940.5 18h2.5l-1.25 1.5z" fill="#2A2A2A"/>
<rect x="994.9" y="15.5" width="5.5" height="5.7" rx="0.6" fill="#fff" stroke="#B8B8B8" stroke-width="0.5"/>
<path d="M996.4 18h2.5l-1.25 1.5z" fill="#2A2A2A"/>
<rect x="1050.25" y="15.5" width="5.5" height="5.7" rx="0.6" fill="#fff" stroke="#B8B8B8" stroke-width="0.5"/>
<path d="M1051.75 18h2.5l-1.25 1.5z" fill="#2A2A2A"/>
<rect x="1106.1" y="15.5" width="5.5" height="5.7" rx="0.6" fill="#fff" stroke="#B8B8B8" stroke-width="0.5"/>
<path d="M1107.6 18h2.5l-1.25 1.5z" fill="#2A2A2A"/>
<rect x="1149.6" y="15.5" width="5.5" height="5.7" rx="0.6" fill="#fff" stroke="#B8B8B8" stroke-width="0.5"/>
<path d="M1151.1 18h2.5l-1.25 1.5z" fill="#2A2A2A"/>
<rect x="1194.2" y="15.5" width="5.5" height="5.7" rx="0.6" fill="#fff" stroke="#B8B8B8" stroke-width="0.5"/>
<path d="M1195.7 18h2.5l-1.25 1.5z" fill="#2A2A2A"/>
</svg>
<div class="h" style="left:0px;width:36.5px">Rk</div>
<div class="h" style="left:36.5px;width:140.75px">Player</div>
<div class="h" style="left:177.25px;width:40.25px">Cmp</div>
<div class="h" style="left:217.5px;width:39px">Att</div>
<div class="h" style="left:256.5px;width:57px">Dropbacks</div>
<div class="h" style="left:313.5px;width:53px">Sacks</div>
<div class="h" style="left:366.5px;width:77px">True Sack Rate</div>
<div class="h" style="left:443.5px;width:55.5px">YAC/CAY</div>
<div class="h" style="left:499px;width:55.5px">Bats</div>
<div class="h" style="left:554.5px;width:56px">ThAwy</div>
<div class="h" style="left:610.5px;width:55.75px">Spikes</div>
<div class="h" style="left:666.25px;width:55.85px">Drop%</div>
<div class="h" style="left:722.1px;width:55.4px">Bad%</div>
<div class="h" style="left:777.5px;width:56px">OnTgt%</div>
<div class="h" style="left:833.5px;width:56px">PktTime</div>
<div class="h" style="left:889.5px;width:55.5px">Bltz%</div>
<div class="h" style="left:945px;width:55.9px">Hrry%</div>
<div class="h" style="left:1000.9px;width:55.35px">Hit%</div>
<div class="h" style="left:1056.25px;width:55.85px">Prss%</div>
<div class="h" style="left:1112.1px;width:43.5px">Scrm</div>
<div class="h" style="left:1155.6px;width:44.6px">Yds/Scr</div>
<div class="c n" style="left:0px;top:22.75px;width:36.5px">1</div>
<div class="c" style="left:36.5px;top:22.75px;width:140.75px">Geno Smith</div>
<div class="c n" style="left:177.25px;top:22.75px;width:40.25px">407</div>
<div class="c n" style="left:217.5px;top:22.75px;width:39px">578</div>
<div class="c n" style="left:256.5px;top:22.75px;width:57px">652</div>
<div class="c n" style="left:313.5px;top:22.75px;width:53px">50</div>
<div class="c n" style="left:366.5px;top:22.75px;width:77px">7.7%</div>
<div class="c n" style="left:443.5px;top:22.75px;width:55.5px">1.02</div>
<div class="c n" style="left:499px;top:22.75px;width:55.5px">14</div>
<div class="c n" style="left:554.5px;top:22.75px;width:56px">20</div>
<div class="c n" style="left:610.5px;top:22.75px;width:55.75px">2</div>
<div class="c n" style="left:666.25px;top:22.75px;width:55.85px">3.6</div>
<div class="c n" style="left:722.1px;top:22.75px;width:55.4px">10.4</div>
<div class="c n" style="left:777.5px;top:22.75px;width:56px">81.8</div>
<div class="c n" style="left:833.5px;top:22.75px;width:56px">2.4</div>
<div class="c n" style="left:889.5px;top:22.75px;width:55.5px">21.2%</div>
<div class="c n" style="left:945px;top:22.75px;width:55.9px">5.5%</div>
<div class="c n" style="left:1000.9px;top:22.75px;width:55.35px">8.7%</div>
<div class="c n" style="left:1056.25px;top:22.75px;width:55.85px">21.9%</div>
<div class="c n" style="left:1112.1px;top:22.75px;width:43.5px">24</div>
<div class="c n" style="left:1155.6px;top:22.75px;width:44.6px">10.7</div>
<div class="c n" style="left:0px;top:34.05px;width:36.5px">2</div>
<div class="c" style="left:36.5px;top:34.05px;width:140.75px">Tua Tagovailoa</div>
<div class="c n" style="left:177.25px;top:34.05px;width:40.25px">291</div>
<div class="c n" style="left:217.5px;top:34.05px;width:39px">399</div>
<div class="c n" style="left:256.5px;top:34.05px;width:57px">427</div>
<div class="c n" style="left:313.5px;top:34.05px;width:53px">21</div>
<div class="c n" style="left:366.5px;top:34.05px;width:77px">4.9%</div>
<div class="c n" style="left:443.5px;top:34.05px;width:55.5px">1.43</div>
<div class="c n" style="left:499px;top:34.05px;width:55.5px">6</div>
<div class="c n" style="left:554.5px;top:34.05px;width:56px">6</div>
<div class="c n" style="left:610.5px;top:34.05px;width:55.75px">2</div>
<div class="c n" style="left:666.25px;top:34.05px;width:55.85px">3.6</div>
<div class="c n" style="left:722.1px;top:34.05px;width:55.4px">11.5</div>
<div class="c n" style="left:777.5px;top:34.05px;width:56px">81.3</div>
<div class="c n" style="left:833.5px;top:34.05px;width:56px">2.1</div>
<div class="c n" style="left:889.5px;top:34.05px;width:55.5px">15.0%</div>
<div class="c n" style="left:945px;top:34.05px;width:55.9px">6.1%</div>
<div class="c n" style="left:1000.9px;top:34.05px;width:55.35px">2.6%</div>
<div class="c n" style="left:1056.25px;top:34.05px;width:55.85px">13.6%</div>
<div class="c n" style="left:1112.1px;top:34.05px;width:43.5px">7</div>
<div class="c n" style="left:1155.6px;top:34.05px;width:44.6px">8.1</div>
<div class="c n" style="left:0px;top:45.35px;width:36.5px">3</div>
<div class="c" style="left:36.5px;top:45.35px;width:140.75px">Tyler Huntley</div>
<div class="c n" style="left:177.25px;top:45.35px;width:40.25px">86</div>
<div class="c n" style="left:217.5px;top:45.35px;width:39px">133</div>
<div class="c n" style="left:256.5px;top:45.35px;width:57px">162</div>
<div class="c n" style="left:313.5px;top:45.35px;width:53px">15</div>
<div class="c n" style="left:366.5px;top:45.35px;width:77px">9.3%</div>
<div class="c n" style="left:443.5px;top:45.35px;width:55.5px">0.74</div>
<div class="c n" style="left:499px;top:45.35px;width:55.5px">3</div>
<div class="c n" style="left:554.5px;top:45.35px;width:56px">7</div>
<div class="c n" style="left:610.5px;top:45.35px;width:55.75px">1</div>
<div class="c n" style="left:666.25px;top:45.35px;width:55.85px">6.4</div>
<div class="c n" style="left:722.1px;top:45.35px;width:55.4px">16.0</div>
<div class="c n" style="left:777.5px;top:45.35px;width:56px">80.8</div>
<div class="c n" style="left:833.5px;top:45.35px;width:56px">2.2</div>
<div class="c n" style="left:889.5px;top:45.35px;width:55.5px">11.7%</div>
<div class="c n" style="left:945px;top:45.35px;width:55.9px">5.6%</div>
<div class="c n" style="left:1000.9px;top:45.35px;width:55.35px">10.5%</div>
<div class="c n" style="left:1056.25px;top:45.35px;width:55.85px">25.3%</div>
<div class="c n" style="left:1112.1px;top:45.35px;width:43.5px">14</div>
<div class="c n" style="left:1155.6px;top:45.35px;width:44.6px">7.4</div>
<div class="c n" style="left:0px;top:56.65px;width:36.5px">4</div>
<div class="c" style="left:36.5px;top:56.65px;width:140.75px">Jared Goff</div>
<div class="c n" style="left:177.25px;top:56.65px;width:40.25px">390</div>
<div class="c n" style="left:217.5px;top:56.65px;width:39px">539</div>
<div class="c n" style="left:256.5px;top:56.65px;width:57px">584</div>
<div class="c n" style="left:313.5px;top:56.65px;width:53px">31</div>
<div class="c n" style="left:366.5px;top:56.65px;width:77px">5.3%</div>
<div class="c n" style="left:443.5px;top:56.65px;width:55.5px">1.32</div>
<div class="c n" style="left:499px;top:56.65px;width:55.5px">4</div>
<div class="c n" style="left:554.5px;top:56.65px;width:56px">24</div>
<div class="c n" style="left:610.5px;top:56.65px;width:55.75px">3</div>
<div class="c n" style="left:666.25px;top:56.65px;width:55.85px">2.1</div>
<div class="c n" style="left:722.1px;top:56.65px;width:55.4px">13.5</div>
<div class="c n" style="left:777.5px;top:56.65px;width:56px">80.5</div>
<div class="c n" style="left:833.5px;top:56.65px;width:56px">2.3</div>
<div class="c n" style="left:889.5px;top:56.65px;width:55.5px">24.5%</div>
<div class="c n" style="left:945px;top:56.65px;width:55.9px">5.8%</div>
<div class="c n" style="left:1000.9px;top:56.65px;width:55.35px">9.8%</div>
<div class="c n" style="left:1056.25px;top:56.65px;width:55.85px">20.9%</div>
<div class="c n" style="left:1112.1px;top:56.65px;width:43.5px">14</div>
<div class="c n" style="left:1155.6px;top:56.65px;width:44.6px">4.9</div>
<div class="c n" style="left:0px;top:67.95px;width:36.5px">5</div>
<div class="c" style="left:36.5px;top:67.95px;width:140.75px">Joe Burrow</div>
<div class="c n" style="left:177.25px;top:67.95px;width:40.25px">460</div>
<div class="c n" style="left:217.5px;top:67.95px;width:39px">652</div>
<div class="c n" style="left:256.5px;top:67.95px;width:57px">722</div>
<div class="c n" style="left:313.5px;top:67.95px;width:53px">48</div>
<div class="c n" style="left:366.5px;top:67.95px;width:77px">6.6%</div>
<div class="c n" style="left:443.5px;top:67.95px;width:55.5px">0.80</div>
<div class="c n" style="left:499px;top:67.95px;width:55.5px">10</div>
<div class="c n" style="left:554.5px;top:67.95px;width:56px">20</div>
<div class="c n" style="left:610.5px;top:67.95px;width:55.75px">1</div>
<div class="c n" style="left:666.25px;top:67.95px;width:55.85px">4.8</div>
<div class="c n" style="left:722.1px;top:67.95px;width:55.4px">11.6</div>
<div class="c n" style="left:777.5px;top:67.95px;width:56px">80.3</div>
<div class="c n" style="left:833.5px;top:67.95px;width:56px">2.2</div>
<div class="c n" style="left:889.5px;top:67.95px;width:55.5px">22.7%</div>
<div class="c n" style="left:945px;top:67.95px;width:55.9px">5.3%</div>
<div class="c n" style="left:1000.9px;top:67.95px;width:55.35px">9.6%</div>
<div class="c n" style="left:1056.25px;top:67.95px;width:55.85px">21.5%</div>
<div class="c n" style="left:1112.1px;top:67.95px;width:43.5px">22</div>
<div class="c n" style="left:1155.6px;top:67.95px;width:44.6px">9.3</div>
<div class="c n" style="left:0px;top:79.25px;width:36.5px">6</div>
<div class="c" style="left:36.5px;top:79.25px;width:140.75px">Justin Herbert</div>
<div class="c n" style="left:177.25px;top:79.25px;width:40.25px">332</div>
<div class="c n" style="left:217.5px;top:79.25px;width:39px">504</div>
<div class="c n" style="left:256.5px;top:79.25px;width:57px">576</div>
<div class="c n" style="left:313.5px;top:79.25px;width:53px">41</div>
<div class="c n" style="left:366.5px;top:79.25px;width:77px">7.1%</div>
<div class="c n" style="left:443.5px;top:79.25px;width:55.5px">0.77</div>
<div class="c n" style="left:499px;top:79.25px;width:55.5px">10</div>
<div class="c n" style="left:554.5px;top:79.25px;width:56px">14</div>
<div class="c n" style="left:610.5px;top:79.25px;width:55.75px">3</div>
<div class="c n" style="left:666.25px;top:79.25px;width:55.85px">6.6</div>
<div class="c n" style="left:722.1px;top:79.25px;width:55.4px">13.8</div>
<div class="c n" style="left:777.5px;top:79.25px;width:56px">79.7</div>
<div class="c n" style="left:833.5px;top:79.25px;width:56px">2.5</div>
<div class="c n" style="left:889.5px;top:79.25px;width:55.5px">27.1%</div>
<div class="c n" style="left:945px;top:79.25px;width:55.9px">3.5%</div>
<div class="c n" style="left:1000.9px;top:79.25px;width:55.35px">10.8%</div>
<div class="c n" style="left:1056.25px;top:79.25px;width:55.85px">21.4%</div>
<div class="c n" style="left:1112.1px;top:79.25px;width:43.5px">31</div>
<div class="c n" style="left:1155.6px;top:79.25px;width:44.6px">10.0</div>
<div class="c n" style="left:0px;top:90.55px;width:36.5px">7</div>
<div class="c" style="left:36.5px;top:90.55px;width:140.75px">Daniel Jones</div>
<div class="c n" style="left:177.25px;top:90.55px;width:40.25px">216</div>
<div class="c n" style="left:217.5px;top:90.55px;width:39px">341</div>
<div class="c n" style="left:256.5px;top:90.55px;width:57px">384</div>
<div class="c n" style="left:313.5px;top:90.55px;width:53px">29</div>
<div class="c n" style="left:366.5px;top:90.55px;width:77px">7.6%</div>
<div class="c n" style="left:443.5px;top:90.55px;width:55.5px">0.84</div>
<div class="c n" style="left:499px;top:90.55px;width:55.5px">7</div>
<div class="c n" style="left:554.5px;top:90.55px;width:56px">17</div>
<div class="c n" style="left:610.5px;top:90.55px;width:55.75px">4</div>
<div class="c n" style="left:666.25px;top:90.55px;width:55.85px">7.5</div>
<div class="c n" style="left:722.1px;top:90.55px;width:55.4px">12.5</div>
<div class="c n" style="left:777.5px;top:90.55px;width:56px">79.4</div>
<div class="c n" style="left:833.5px;top:90.55px;width:56px">2.4</div>
<div class="c n" style="left:889.5px;top:90.55px;width:55.5px">23.2%</div>
<div class="c n" style="left:945px;top:90.55px;width:55.9px">5.5%</div>
<div class="c n" style="left:1000.9px;top:90.55px;width:55.35px">11.5%</div>
<div class="c n" style="left:1056.25px;top:90.55px;width:55.85px">24.5%</div>
<div class="c n" style="left:1112.1px;top:90.55px;width:43.5px">14</div>
<div class="c n" style="left:1155.6px;top:90.55px;width:44.6px">5.5</div>
<div class="c n" style="left:0px;top:101.85px;width:36.5px">8</div>
<div class="c" style="left:36.5px;top:101.85px;width:140.75px">Kyler Murray</div>
<div class="c n" style="left:177.25px;top:101.85px;width:40.25px">372</div>
<div class="c n" style="left:217.5px;top:101.85px;width:39px">541</div>
<div class="c n" style="left:256.5px;top:101.85px;width:57px">613</div>
<div class="c n" style="left:313.5px;top:101.85px;width:53px">30</div>
<div class="c n" style="left:366.5px;top:101.85px;width:77px">4.9%</div>
<div class="c n" style="left:443.5px;top:101.85px;width:55.5px">1.05</div>
<div class="c n" style="left:499px;top:101.85px;width:55.5px">14</div>
<div class="c n" style="left:554.5px;top:101.85px;width:56px">19</div>
<div class="c n" style="left:610.5px;top:101.85px;width:55.75px">1</div>
<div class="c n" style="left:666.25px;top:101.85px;width:55.85px">3.3</div>
<div class="c n" style="left:722.1px;top:101.85px;width:55.4px">12.7</div>
<div class="c n" style="left:777.5px;top:101.85px;width:56px">79.1</div>
<div class="c n" style="left:833.5px;top:101.85px;width:56px">2.4</div>
<div class="c n" style="left:889.5px;top:101.85px;width:55.5px">25.3%</div>
<div class="c n" style="left:945px;top:101.85px;width:55.9px">7.7%</div>
<div class="c n" style="left:1000.9px;top:101.85px;width:55.35px">3.8%</div>
<div class="c n" style="left:1056.25px;top:101.85px;width:55.85px">16.3%</div>
<div class="c n" style="left:1112.1px;top:101.85px;width:43.5px">42</div>
<div class="c n" style="left:1155.6px;top:101.85px;width:44.6px">8.7</div>
<div class="c n" style="left:0px;top:113.15px;width:36.5px">9</div>
<div class="c" style="left:36.5px;top:113.15px;width:140.75px">Jalen Hurts</div>
<div class="c n" style="left:177.25px;top:113.15px;width:40.25px">248</div>
<div class="c n" style="left:217.5px;top:113.15px;width:39px">361</div>
<div class="c n" style="left:256.5px;top:113.15px;width:57px">438</div>
<div class="c n" style="left:313.5px;top:113.15px;width:53px">38</div>
<div class="c n" style="left:366.5px;top:113.15px;width:77px">8.7%</div>
<div class="c n" style="left:443.5px;top:113.15px;width:55.5px">0.90</div>
<div class="c n" style="left:499px;top:113.15px;width:55.5px">8</div>
<div class="c n" style="left:554.5px;top:113.15px;width:56px">25</div>
<div class="c n" style="left:610.5px;top:113.15px;width:55.75px">1</div>
<div class="c n" style="left:666.25px;top:113.15px;width:55.85px">1.8</div>
<div class="c n" style="left:722.1px;top:113.15px;width:55.4px">13.4</div>
<div class="c n" style="left:777.5px;top:113.15px;width:56px">79.1</div>
<div class="c n" style="left:833.5px;top:113.15px;width:56px">2.7</div>
<div class="c n" style="left:889.5px;top:113.15px;width:55.5px">28.8%</div>
<div class="c n" style="left:945px;top:113.15px;width:55.9px">6.6%</div>
<div class="c n" style="left:1000.9px;top:113.15px;width:55.35px">5.3%</div>
<div class="c n" style="left:1056.25px;top:113.15px;width:55.85px">20.5%</div>
<div class="c n" style="left:1112.1px;top:113.15px;width:43.5px">39</div>
<div class="c n" style="left:1155.6px;top:113.15px;width:44.6px">9.4</div>
<div class="c n" style="left:0px;top:124.45px;width:36.5px">10</div>
<div class="c" style="left:36.5px;top:124.45px;width:140.75px">Lamar Jackson</div>
<div class="c n" style="left:177.25px;top:124.45px;width:40.25px">316</div>
<div class="c n" style="left:217.5px;top:124.45px;width:39px">474</div>
<div class="c n" style="left:256.5px;top:124.45px;width:57px">542</div>
<div class="c n" style="left:313.5px;top:124.45px;width:53px">23</div>
<div class="c n" style="left:366.5px;top:124.45px;width:77px">4.2%</div>
<div class="c n" style="left:443.5px;top:124.45px;width:55.5px">1.00</div>
<div class="c n" style="left:499px;top:124.45px;width:55.5px">12</div>
<div class="c n" style="left:554.5px;top:124.45px;width:56px">13</div>
<div class="c n" style="left:610.5px;top:124.45px;width:55.75px">5</div>
<div class="c n" style="left:666.25px;top:124.45px;width:55.85px">6.1</div>
<div class="c n" style="left:722.1px;top:124.45px;width:55.4px">15.1</div>
<div class="c n" style="left:777.5px;top:124.45px;width:56px">78.7</div>
<div class="c n" style="left:833.5px;top:124.45px;width:56px">2.5</div>
<div class="c n" style="left:889.5px;top:124.45px;width:55.5px">29.9%</div>
<div class="c n" style="left:945px;top:124.45px;width:55.9px">9.8%</div>
<div class="c n" style="left:1000.9px;top:124.45px;width:55.35px">5.7%</div>
<div class="c n" style="left:1056.25px;top:124.45px;width:55.85px">19.7%</div>
<div class="c n" style="left:1112.1px;top:124.45px;width:43.5px">45</div>
<div class="c n" style="left:1155.6px;top:124.45px;width:44.6px">9.0</div>
<div class="c n" style="left:0px;top:135.75px;width:36.5px">11</div>
<div class="c" style="left:36.5px;top:135.75px;width:140.75px">Deshaun Watson</div>
<div class="c n" style="left:177.25px;top:135.75px;width:40.25px">137</div>
<div class="c n" style="left:217.5px;top:135.75px;width:39px">216</div>
<div class="c n" style="left:256.5px;top:135.75px;width:57px">270</div>
<div class="c n" style="left:313.5px;top:135.75px;width:53px">33</div>
<div class="c n" style="left:366.5px;top:135.75px;width:77px">12.2%</div>
<div class="c n" style="left:443.5px;top:135.75px;width:55.5px">1.04</div>
<div class="c n" style="left:499px;top:135.75px;width:55.5px">5</div>
<div class="c n" style="left:554.5px;top:135.75px;width:56px">5</div>
<div class="c n" style="left:610.5px;top:135.75px;width:55.75px">0</div>
<div class="c n" style="left:666.25px;top:135.75px;width:55.85px">9.5</div>
<div class="c n" style="left:722.1px;top:135.75px;width:55.4px">16.1</div>
<div class="c n" style="left:777.5px;top:135.75px;width:56px">78.7</div>
<div class="c n" style="left:833.5px;top:135.75px;width:56px">2.6</div>
<div class="c n" style="left:889.5px;top:135.75px;width:55.5px">26.7%</div>
<div class="c n" style="left:945px;top:135.75px;width:55.9px">5.9%</div>
<div class="c n" style="left:1000.9px;top:135.75px;width:55.35px">13.7%</div>
<div class="c n" style="left:1056.25px;top:135.75px;width:55.85px">31.9%</div>
<div class="c n" style="left:1112.1px;top:135.75px;width:43.5px">21</div>
<div class="c n" style="left:1155.6px;top:135.75px;width:44.6px">6.3</div>
<div class="c n" style="left:0px;top:147.05px;width:36.5px">12</div>
<div class="c" style="left:36.5px;top:147.05px;width:140.75px">Baker Mayfield</div>
<div class="c n" style="left:177.25px;top:147.05px;width:40.25px">407</div>
<div class="c n" style="left:217.5px;top:147.05px;width:39px">570</div>
<div class="c n" style="left:256.5px;top:147.05px;width:57px">654</div>
<div class="c n" style="left:313.5px;top:147.05px;width:53px">40</div>
<div class="c n" style="left:366.5px;top:147.05px;width:77px">6.1%</div>
<div class="c n" style="left:443.5px;top:147.05px;width:55.5px">1.18</div>
<div class="c n" style="left:499px;top:147.05px;width:55.5px">14</div>
<div class="c n" style="left:554.5px;top:147.05px;width:56px">7</div>
<div class="c n" style="left:610.5px;top:147.05px;width:55.75px">1</div>
<div class="c n" style="left:666.25px;top:147.05px;width:55.85px">4.8</div>
<div class="c n" style="left:722.1px;top:147.05px;width:55.4px">11.2</div>
<div class="c n" style="left:777.5px;top:147.05px;width:56px">78.6</div>
<div class="c n" style="left:833.5px;top:147.05px;width:56px">2.2</div>
<div class="c n" style="left:889.5px;top:147.05px;width:55.5px">26.8%</div>
<div class="c n" style="left:945px;top:147.05px;width:55.9px">7.5%</div>
<div class="c n" style="left:1000.9px;top:147.05px;width:55.35px">3.1%</div>
<div class="c n" style="left:1056.25px;top:147.05px;width:55.85px">16.7%</div>
<div class="c n" style="left:1112.1px;top:147.05px;width:43.5px">44</div>
<div class="c n" style="left:1155.6px;top:147.05px;width:44.6px">8.7</div>
<div class="c n" style="left:0px;top:158.35px;width:36.5px">13</div>
<div class="c" style="left:36.5px;top:158.35px;width:140.75px">Brock Purdy</div>
<div class="c n" style="left:177.25px;top:158.35px;width:40.25px">300</div>
<div class="c n" style="left:217.5px;top:158.35px;width:39px">455</div>
<div class="c n" style="left:256.5px;top:158.35px;width:57px">530</div>
<div class="c n" style="left:313.5px;top:158.35px;width:53px">31</div>
<div class="c n" style="left:366.5px;top:158.35px;width:77px">5.8%</div>
<div class="c n" style="left:443.5px;top:158.35px;width:55.5px">0.74</div>
<div class="c n" style="left:499px;top:158.35px;width:55.5px">10</div>
<div class="c n" style="left:554.5px;top:158.35px;width:56px">10</div>
<div class="c n" style="left:610.5px;top:158.35px;width:55.75px">5</div>
<div class="c n" style="left:666.25px;top:158.35px;width:55.85px">4.3</div>
<div class="c n" style="left:722.1px;top:158.35px;width:55.4px">14.1</div>
<div class="c n" style="left:777.5px;top:158.35px;width:56px">78.4</div>
<div class="c n" style="left:833.5px;top:158.35px;width:56px">2.5</div>
<div class="c n" style="left:889.5px;top:158.35px;width:55.5px">26.8%</div>
<div class="c n" style="left:945px;top:158.35px;width:55.9px">6.0%</div>
<div class="c n" style="left:1000.9px;top:158.35px;width:55.35px">7.2%</div>
<div class="c n" style="left:1056.25px;top:158.35px;width:55.85px">19.1%</div>
<div class="c n" style="left:1112.1px;top:158.35px;width:43.5px">44</div>
<div class="c n" style="left:1155.6px;top:158.35px;width:44.6px">6.8</div>
<div class="c n" style="left:0px;top:169.65px;width:36.5px">14</div>
<div class="c" style="left:36.5px;top:169.65px;width:140.75px">Jayden Daniels</div>
<div class="c n" style="left:177.25px;top:169.65px;width:40.25px">331</div>
<div class="c n" style="left:217.5px;top:169.65px;width:39px">480</div>
<div class="c n" style="left:256.5px;top:169.65px;width:57px">600</div>
<div class="c n" style="left:313.5px;top:169.65px;width:53px">47</div>
<div class="c n" style="left:366.5px;top:169.65px;width:77px">7.8%</div>
<div class="c n" style="left:443.5px;top:169.65px;width:55.5px">1.00</div>
<div class="c n" style="left:499px;top:169.65px;width:55.5px">12</div>
<div class="c n" style="left:554.5px;top:169.65px;width:56px">15</div>
<div class="c n" style="left:610.5px;top:169.65px;width:55.75px">2</div>
<div class="c n" style="left:666.25px;top:169.65px;width:55.85px">4.3</div>
<div class="c n" style="left:722.1px;top:169.65px;width:55.4px">14.5</div>
<div class="c n" style="left:777.5px;top:169.65px;width:56px">78.2</div>
<div class="c n" style="left:833.5px;top:169.65px;width:56px">2.4</div>
<div class="c n" style="left:889.5px;top:169.65px;width:55.5px">25.5%</div>
<div class="c n" style="left:945px;top:169.65px;width:55.9px">6.0%</div>
<div class="c n" style="left:1000.9px;top:169.65px;width:55.35px">4.7%</div>
<div class="c n" style="left:1056.25px;top:169.65px;width:55.85px">18.5%</div>
<div class="c n" style="left:1112.1px;top:169.65px;width:43.5px">73</div>
<div class="c n" style="left:1155.6px;top:169.65px;width:44.6px">8.1</div>
<div class="c n" style="left:0px;top:180.95px;width:36.5px">15</div>
<div class="c" style="left:36.5px;top:180.95px;width:140.75px">Kirk Cousins</div>
<div class="c n" style="left:177.25px;top:180.95px;width:40.25px">303</div>
<div class="c n" style="left:217.5px;top:180.95px;width:39px">453</div>
<div class="c n" style="left:256.5px;top:180.95px;width:57px">484</div>
<div class="c n" style="left:313.5px;top:180.95px;width:53px">28</div>
<div class="c n" style="left:366.5px;top:180.95px;width:77px">5.8%</div>
<div class="c n" style="left:443.5px;top:180.95px;width:55.5px">0.93</div>
<div class="c n" style="left:499px;top:180.95px;width:55.5px">15</div>
<div class="c n" style="left:554.5px;top:180.95px;width:56px">12</div>
<div class="c n" style="left:610.5px;top:180.95px;width:55.75px">4</div>
<div class="c n" style="left:666.25px;top:180.95px;width:55.85px">3.7</div>
<div class="c n" style="left:722.1px;top:180.95px;width:55.4px">11.7</div>
<div class="c n" style="left:777.5px;top:180.95px;width:56px">77.8</div>
<div class="c n" style="left:833.5px;top:180.95px;width:56px">2.4</div>
<div class="c n" style="left:889.5px;top:180.95px;width:55.5px">21.9%</div>
<div class="c n" style="left:945px;top:180.95px;width:55.9px">5.2%</div>
<div class="c n" style="left:1000.9px;top:180.95px;width:55.35px">9.7%</div>
<div class="c n" style="left:1056.25px;top:180.95px;width:55.85px">20.7%</div>
<div class="c n" style="left:1112.1px;top:180.95px;width:43.5px">3</div>
<div class="c n" style="left:1155.6px;top:180.95px;width:44.6px">5.3</div>
<div class="c n" style="left:0px;top:192.25px;width:36.5px">16</div>
<div class="c" style="left:36.5px;top:192.25px;width:140.75px">Sam Darnold</div>
<div class="c n" style="left:177.25px;top:192.25px;width:40.25px">361</div>
<div class="c n" style="left:217.5px;top:192.25px;width:39px">545</div>
<div class="c n" style="left:256.5px;top:192.25px;width:57px">621</div>
<div class="c n" style="left:313.5px;top:192.25px;width:53px">48</div>
<div class="c n" style="left:366.5px;top:192.25px;width:77px">7.7%</div>
<div class="c n" style="left:443.5px;top:192.25px;width:55.5px">0.68</div>
<div class="c n" style="left:499px;top:192.25px;width:55.5px">10</div>
<div class="c n" style="left:554.5px;top:192.25px;width:56px">29</div>
<div class="c n" style="left:610.5px;top:192.25px;width:55.75px">1</div>
<div class="c n" style="left:666.25px;top:192.25px;width:55.85px">3.7</div>
<div class="c n" style="left:722.1px;top:192.25px;width:55.4px">15.0</div>
<div class="c n" style="left:777.5px;top:192.25px;width:56px">77.7</div>
<div class="c n" style="left:833.5px;top:192.25px;width:56px">2.6</div>
<div class="c n" style="left:889.5px;top:192.25px;width:55.5px">22.1%</div>
<div class="c n" style="left:945px;top:192.25px;width:55.9px">8.4%</div>
<div class="c n" style="left:1000.9px;top:192.25px;width:55.35px">8.4%</div>
<div class="c n" style="left:1056.25px;top:192.25px;width:55.85px">24.5%</div>
<div class="c n" style="left:1112.1px;top:192.25px;width:43.5px">28</div>
<div class="c n" style="left:1155.6px;top:192.25px;width:44.6px">7.9</div>
<div class="c n" style="left:0px;top:203.55px;width:36.5px">17</div>
<div class="c" style="left:36.5px;top:203.55px;width:140.75px">Jacoby Brissett</div>
<div class="c n" style="left:177.25px;top:203.55px;width:40.25px">95</div>
<div class="c n" style="left:217.5px;top:203.55px;width:39px">161</div>
<div class="c n" style="left:256.5px;top:203.55px;width:57px">188</div>
<div class="c n" style="left:313.5px;top:203.55px;width:53px">18</div>
<div class="c n" style="left:366.5px;top:203.55px;width:77px">9.6%</div>
<div class="c n" style="left:443.5px;top:203.55px;width:55.5px">1.12</div>
<div class="c n" style="left:499px;top:203.55px;width:55.5px">1</div>
<div class="c n" style="left:554.5px;top:203.55px;width:56px">7</div>
<div class="c n" style="left:610.5px;top:203.55px;width:55.75px">1</div>
<div class="c n" style="left:666.25px;top:203.55px;width:55.85px">8.5</div>
<div class="c n" style="left:722.1px;top:203.55px;width:55.4px">19.0</div>
<div class="c n" style="left:777.5px;top:203.55px;width:56px">77.1</div>
<div class="c n" style="left:833.5px;top:203.55px;width:56px">2.4</div>
<div class="c n" style="left:889.5px;top:203.55px;width:55.5px">29.3%</div>
<div class="c n" style="left:945px;top:203.55px;width:55.9px">8.5%</div>
<div class="c n" style="left:1000.9px;top:203.55px;width:55.35px">14.9%</div>
<div class="c n" style="left:1056.25px;top:203.55px;width:55.85px">33.0%</div>
<div class="c n" style="left:1112.1px;top:203.55px;width:43.5px">9</div>
<div class="c n" style="left:1155.6px;top:203.55px;width:44.6px">7.2</div>
<div class="c n" style="left:0px;top:214.85px;width:36.5px">18</div>
<div class="c" style="left:36.5px;top:214.85px;width:140.75px">Patrick Mahomes</div>
<div class="c n" style="left:177.25px;top:214.85px;width:40.25px">392</div>
<div class="c n" style="left:217.5px;top:214.85px;width:39px">581</div>
<div class="c n" style="left:256.5px;top:214.85px;width:57px">653</div>
<div class="c n" style="left:313.5px;top:214.85px;width:53px">36</div>
<div class="c n" style="left:366.5px;top:214.85px;width:77px">5.5%</div>
<div class="c n" style="left:443.5px;top:214.85px;width:55.5px">1.41</div>
<div class="c n" style="left:499px;top:214.85px;width:55.5px">10</div>
<div class="c n" style="left:554.5px;top:214.85px;width:56px">26</div>
<div class="c n" style="left:610.5px;top:214.85px;width:55.75px">2</div>
<div class="c n" style="left:666.25px;top:214.85px;width:55.85px">4.7</div>
<div class="c n" style="left:722.1px;top:214.85px;width:55.4px">15.7</div>
<div class="c n" style="left:777.5px;top:214.85px;width:56px">76.9</div>
<div class="c n" style="left:833.5px;top:214.85px;width:56px">2.3</div>
<div class="c n" style="left:889.5px;top:214.85px;width:55.5px">21.4%</div>
<div class="c n" style="left:945px;top:214.85px;width:55.9px">7.0%</div>
<div class="c n" style="left:1000.9px;top:214.85px;width:55.35px">10.7%</div>
<div class="c n" style="left:1056.25px;top:214.85px;width:55.85px">23.3%</div>
<div class="c n" style="left:1112.1px;top:214.85px;width:43.5px">36</div>
<div class="c n" style="left:1155.6px;top:214.85px;width:44.6px">9.1</div>
<div class="c n" style="left:0px;top:226.15px;width:36.5px">19</div>
<div class="c" style="left:36.5px;top:226.15px;width:140.75px">Derek Carr</div>
<div class="c n" style="left:177.25px;top:226.15px;width:40.25px">189</div>
<div class="c n" style="left:217.5px;top:226.15px;width:39px">279</div>
<div class="c n" style="left:256.5px;top:226.15px;width:57px">295</div>
<div class="c n" style="left:313.5px;top:226.15px;width:53px">8</div>
<div class="c n" style="left:366.5px;top:226.15px;width:77px">2.7%</div>
<div class="c n" style="left:443.5px;top:226.15px;width:55.5px">1.03</div>
<div class="c n" style="left:499px;top:226.15px;width:55.5px">5</div>
<div class="c n" style="left:554.5px;top:226.15px;width:56px">17</div>
<div class="c n" style="left:610.5px;top:226.15px;width:55.75px">0</div>
<div class="c n" style="left:666.25px;top:226.15px;width:55.85px">3.8</div>
<div class="c n" style="left:722.1px;top:226.15px;width:55.4px">14.1</div>
<div class="c n" style="left:777.5px;top:226.15px;width:56px">76.7</div>
<div class="c n" style="left:833.5px;top:226.15px;width:56px">2.4</div>
<div class="c n" style="left:889.5px;top:226.15px;width:55.5px">26.8%</div>
<div class="c n" style="left:945px;top:226.15px;width:55.9px">14.2%</div>
<div class="c n" style="left:1000.9px;top:226.15px;width:55.35px">7.1%</div>
<div class="c n" style="left:1056.25px;top:226.15px;width:55.85px">24.1%</div>
<div class="c n" style="left:1112.1px;top:226.15px;width:43.5px">8</div>
<div class="c n" style="left:1155.6px;top:226.15px;width:44.6px">6.3</div>
<div class="c n" style="left:0px;top:237.45px;width:36.5px">20</div>
<div class="c" style="left:36.5px;top:237.45px;width:140.75px">Bo Nix</div>
<div class="c n" style="left:177.25px;top:237.45px;width:40.25px">376</div>
<div class="c n" style="left:217.5px;top:237.45px;width:39px">567</div>
<div class="c n" style="left:256.5px;top:237.45px;width:57px">641</div>
<div class="c n" style="left:313.5px;top:237.45px;width:53px">24</div>
<div class="c n" style="left:366.5px;top:237.45px;width:77px">3.7%</div>
<div class="c n" style="left:443.5px;top:237.45px;width:55.5px">1.22</div>
<div class="c n" style="left:499px;top:237.45px;width:55.5px">16</div>
<div class="c n" style="left:554.5px;top:237.45px;width:56px">18</div>
<div class="c n" style="left:610.5px;top:237.45px;width:55.75px">1</div>
<div class="c n" style="left:666.25px;top:237.45px;width:55.85px">5.8</div>
<div class="c n" style="left:722.1px;top:237.45px;width:55.4px">15.1</div>
<div class="c n" style="left:777.5px;top:237.45px;width:56px">76.6</div>
<div class="c n" style="left:833.5px;top:237.45px;width:56px">2.5</div>
<div class="c n" style="left:889.5px;top:237.45px;width:55.5px">23.1%</div>
<div class="c n" style="left:945px;top:237.45px;width:55.9px">6.9%</div>
<div class="c n" style="left:1000.9px;top:237.45px;width:55.35px">5.3%</div>
<div class="c n" style="left:1056.25px;top:237.45px;width:55.85px">15.9%</div>
<div class="c n" style="left:1112.1px;top:237.45px;width:43.5px">50</div>
<div class="c n" style="left:1155.6px;top:237.45px;width:44.6px">7.2</div>
<div class="c n" style="left:0px;top:248.75px;width:36.5px">21</div>
<div class="c" style="left:36.5px;top:248.75px;width:140.75px">Russell Wilson</div>
<div class="c n" style="left:177.25px;top:248.75px;width:40.25px">214</div>
<div class="c n" style="left:217.5px;top:248.75px;width:39px">336</div>
<div class="c n" style="left:256.5px;top:248.75px;width:57px">390</div>
<div class="c n" style="left:313.5px;top:248.75px;width:53px">33</div>
<div class="c n" style="left:366.5px;top:248.75px;width:77px">8.5%</div>
<div class="c n" style="left:443.5px;top:248.75px;width:55.5px">0.83</div>
<div class="c n" style="left:499px;top:248.75px;width:55.5px">6</div>
<div class="c n" style="left:554.5px;top:248.75px;width:56px">25</div>
<div class="c n" style="left:610.5px;top:248.75px;width:55.75px">2</div>
<div class="c n" style="left:666.25px;top:248.75px;width:55.85px">4.5</div>
<div class="c n" style="left:722.1px;top:248.75px;width:55.4px">16.8</div>
<div class="c n" style="left:777.5px;top:248.75px;width:56px">76.4</div>
<div class="c n" style="left:833.5px;top:248.75px;width:56px">2.4</div>
<div class="c n" style="left:889.5px;top:248.75px;width:55.5px">23.3%</div>
<div class="c n" style="left:945px;top:248.75px;width:55.9px">6.9%</div>
<div class="c n" style="left:1000.9px;top:248.75px;width:55.35px">11.5%</div>
<div class="c n" style="left:1056.25px;top:248.75px;width:55.85px">26.9%</div>
<div class="c n" style="left:1112.1px;top:248.75px;width:43.5px">21</div>
<div class="c n" style="left:1155.6px;top:248.75px;width:44.6px">7.0</div>
<div class="c n" style="left:0px;top:260.05px;width:36.5px">22</div>
<div class="c" style="left:36.5px;top:260.05px;width:140.75px">Drake Maye</div>
<div class="c n" style="left:177.25px;top:260.05px;width:40.25px">225</div>
<div class="c n" style="left:217.5px;top:260.05px;width:39px">338</div>
<div class="c n" style="left:256.5px;top:260.05px;width:57px">417</div>
<div class="c n" style="left:313.5px;top:260.05px;width:53px">34</div>
<div class="c n" style="left:366.5px;top:260.05px;width:77px">8.2%</div>
<div class="c n" style="left:443.5px;top:260.05px;width:55.5px">1.10</div>
<div class="c n" style="left:499px;top:260.05px;width:55.5px">7</div>
<div class="c n" style="left:554.5px;top:260.05px;width:56px">14</div>
<div class="c n" style="left:610.5px;top:260.05px;width:55.75px">1</div>
<div class="c n" style="left:666.25px;top:260.05px;width:55.85px">3.4</div>
<div class="c n" style="left:722.1px;top:260.05px;width:55.4px">16.4</div>
<div class="c n" style="left:777.5px;top:260.05px;width:56px">76.2</div>
<div class="c n" style="left:833.5px;top:260.05px;width:56px">2.3</div>
<div class="c n" style="left:889.5px;top:260.05px;width:55.5px">23.0%</div>
<div class="c n" style="left:945px;top:260.05px;width:55.9px">5.5%</div>
<div class="c n" style="left:1000.9px;top:260.05px;width:55.35px">6.2%</div>
<div class="c n" style="left:1056.25px;top:260.05px;width:55.85px">19.9%</div>
<div class="c n" style="left:1112.1px;top:260.05px;width:43.5px">45</div>
<div class="c n" style="left:1155.6px;top:260.05px;width:44.6px">9.0</div>
<div class="c n" style="left:0px;top:271.35px;width:36.5px">23</div>
<div class="c" style="left:36.5px;top:271.35px;width:140.75px">Gardner Minshew II</div>
<div class="c n" style="left:177.25px;top:271.35px;width:40.25px">203</div>
<div class="c n" style="left:217.5px;top:271.35px;width:39px">306</div>
<div class="c n" style="left:256.5px;top:271.35px;width:57px">346</div>
<div class="c n" style="left:313.5px;top:271.35px;width:53px">29</div>
<div class="c n" style="left:366.5px;top:271.35px;width:77px">8.4%</div>
<div class="c n" style="left:443.5px;top:271.35px;width:55.5px">1.20</div>
<div class="c n" style="left:499px;top:271.35px;width:55.5px">10</div>
<div class="c n" style="left:554.5px;top:271.35px;width:56px">22</div>
<div class="c n" style="left:610.5px;top:271.35px;width:55.75px">3</div>
<div class="c n" style="left:666.25px;top:271.35px;width:55.85px">2.8</div>
<div class="c n" style="left:722.1px;top:271.35px;width:55.4px">13.5</div>
<div class="c n" style="left:777.5px;top:271.35px;width:56px">76.2</div>
<div class="c n" style="left:833.5px;top:271.35px;width:56px">2.2</div>
<div class="c n" style="left:889.5px;top:271.35px;width:55.5px">31.5%</div>
<div class="c n" style="left:945px;top:271.35px;width:55.9px">7.2%</div>
<div class="c n" style="left:1000.9px;top:271.35px;width:55.35px">7.8%</div>
<div class="c n" style="left:1056.25px;top:271.35px;width:55.85px">23.4%</div>
<div class="c n" style="left:1112.1px;top:271.35px;width:43.5px">11</div>
<div class="c n" style="left:1155.6px;top:271.35px;width:44.6px">5.5</div>
<div class="c n" style="left:0px;top:282.65px;width:36.5px">24</div>
<div class="c" style="left:36.5px;top:282.65px;width:140.75px">Aaron Rodgers</div>
<div class="c n" style="left:177.25px;top:282.65px;width:40.25px">368</div>
<div class="c n" style="left:217.5px;top:282.65px;width:39px">584</div>
<div class="c n" style="left:256.5px;top:282.65px;width:57px">640</div>
<div class="c n" style="left:313.5px;top:282.65px;width:53px">40</div>
<div class="c n" style="left:366.5px;top:282.65px;width:77px">6.3%</div>
<div class="c n" style="left:443.5px;top:282.65px;width:55.5px">1.19</div>
<div class="c n" style="left:499px;top:282.65px;width:55.5px">13</div>
<div class="c n" style="left:554.5px;top:282.65px;width:56px">16</div>
<div class="c n" style="left:610.5px;top:282.65px;width:55.75px">0</div>
<div class="c n" style="left:666.25px;top:282.65px;width:55.85px">6.9</div>
<div class="c n" style="left:722.1px;top:282.65px;width:55.4px">17.3</div>
<div class="c n" style="left:777.5px;top:282.65px;width:56px">75.5</div>
<div class="c n" style="left:833.5px;top:282.65px;width:56px">2.3</div>
<div class="c n" style="left:889.5px;top:282.65px;width:55.5px">22.0%</div>
<div class="c n" style="left:945px;top:282.65px;width:55.9px">5.5%</div>
<div class="c n" style="left:1000.9px;top:282.65px;width:55.35px">8.1%</div>
<div class="c n" style="left:1056.25px;top:282.65px;width:55.85px">19.8%</div>
<div class="c n" style="left:1112.1px;top:282.65px;width:43.5px">16</div>
<div class="c n" style="left:1155.6px;top:282.65px;width:44.6px">6.4</div>
<div class="c n" style="left:0px;top:293.95px;width:36.5px">25</div>
<div class="c" style="left:36.5px;top:293.95px;width:140.75px">Justin Fields</div>
<div class="c n" style="left:177.25px;top:293.95px;width:40.25px">106</div>
<div class="c n" style="left:217.5px;top:293.95px;width:39px">161</div>
<div class="c n" style="left:256.5px;top:293.95px;width:57px">194</div>
<div class="c n" style="left:313.5px;top:293.95px;width:53px">16</div>
<div class="c n" style="left:366.5px;top:293.95px;width:77px">8.2%</div>
<div class="c n" style="left:443.5px;top:293.95px;width:55.5px">0.89</div>
<div class="c n" style="left:499px;top:293.95px;width:55.5px">3</div>
<div class="c n" style="left:554.5px;top:293.95px;width:56px">8</div>
<div class="c n" style="left:610.5px;top:293.95px;width:55.75px">1</div>
<div class="c n" style="left:666.25px;top:293.95px;width:55.85px">4.6</div>
<div class="c n" style="left:722.1px;top:293.95px;width:55.4px">15.8</div>
<div class="c n" style="left:777.5px;top:293.95px;width:56px">75.0</div>
<div class="c n" style="left:833.5px;top:293.95px;width:56px">2.5</div>
<div class="c n" style="left:889.5px;top:293.95px;width:55.5px">24.7%</div>
<div class="c n" style="left:945px;top:293.95px;width:55.9px">5.7%</div>
<div class="c n" style="left:1000.9px;top:293.95px;width:55.35px">8.2%</div>
<div class="c n" style="left:1056.25px;top:293.95px;width:55.85px">22.2%</div>
<div class="c n" style="left:1112.1px;top:293.95px;width:43.5px">17</div>
<div class="c n" style="left:1155.6px;top:293.95px;width:44.6px">6.3</div>
<div class="c n" style="left:0px;top:305.25px;width:36.5px">26</div>
<div class="c" style="left:36.5px;top:305.25px;width:140.75px">Josh Allen</div>
<div class="c n" style="left:177.25px;top:305.25px;width:40.25px">307</div>
<div class="c n" style="left:217.5px;top:305.25px;width:39px">483</div>
<div class="c n" style="left:256.5px;top:305.25px;width:57px">538</div>
<div class="c n" style="left:313.5px;top:305.25px;width:53px">14</div>
<div class="c n" style="left:366.5px;top:305.25px;width:77px">2.6%</div>
<div class="c n" style="left:443.5px;top:305.25px;width:55.5px">1.16</div>
<div class="c n" style="left:499px;top:305.25px;width:55.5px">9</div>
<div class="c n" style="left:554.5px;top:305.25px;width:56px">22</div>
<div class="c n" style="left:610.5px;top:305.25px;width:55.75px">1</div>
<div class="c n" style="left:666.25px;top:305.25px;width:55.85px">4.3</div>
<div class="c n" style="left:722.1px;top:305.25px;width:55.4px">18.7</div>
<div class="c n" style="left:777.5px;top:305.25px;width:56px">74.8</div>
<div class="c n" style="left:833.5px;top:305.25px;width:56px">2.4</div>
<div class="c n" style="left:889.5px;top:305.25px;width:55.5px">25.3%</div>
<div class="c n" style="left:945px;top:305.25px;width:55.9px">6.9%</div>
<div class="c n" style="left:1000.9px;top:305.25px;width:55.35px">6.9%</div>
<div class="c n" style="left:1056.25px;top:305.25px;width:55.85px">16.4%</div>
<div class="c n" style="left:1112.1px;top:305.25px;width:43.5px">41</div>
<div class="c n" style="left:1155.6px;top:305.25px;width:44.6px">8.9</div>
<div class="c n" style="left:0px;top:316.55px;width:36.5px">27</div>
<div class="c" style="left:36.5px;top:316.55px;width:140.75px">Andy Dalton</div>
<div class="c n" style="left:177.25px;top:316.55px;width:40.25px">106</div>
<div class="c n" style="left:217.5px;top:316.55px;width:39px">160</div>
<div class="c n" style="left:256.5px;top:316.55px;width:57px">173</div>
<div class="c n" style="left:313.5px;top:316.55px;width:53px">7</div>
<div class="c n" style="left:366.5px;top:316.55px;width:77px">4.0%</div>
<div class="c n" style="left:443.5px;top:316.55px;width:55.5px">0.87</div>
<div class="c n" style="left:499px;top:316.55px;width:55.5px">5</div>
<div class="c n" style="left:554.5px;top:316.55px;width:56px">3</div>
<div class="c n" style="left:610.5px;top:316.55px;width:55.75px">0</div>
<div class="c n" style="left:666.25px;top:316.55px;width:55.85px">5.7</div>
<div class="c n" style="left:722.1px;top:316.55px;width:55.4px">13.4</div>
<div class="c n" style="left:777.5px;top:316.55px;width:56px">74.5</div>
<div class="c n" style="left:833.5px;top:316.55px;width:56px">2.2</div>
<div class="c n" style="left:889.5px;top:316.55px;width:55.5px">32.4%</div>
<div class="c n" style="left:945px;top:316.55px;width:55.9px">5.8%</div>
<div class="c n" style="left:1000.9px;top:316.55px;width:55.35px">6.4%</div>
<div class="c n" style="left:1056.25px;top:316.55px;width:55.85px">16.2%</div>
<div class="c n" style="left:1112.1px;top:316.55px;width:43.5px">6</div>
<div class="c n" style="left:1155.6px;top:316.55px;width:44.6px">6.0</div>
<div class="c n" style="left:0px;top:327.85px;width:36.5px">28</div>
<div class="c" style="left:36.5px;top:327.85px;width:140.75px">Matthew Stafford</div>
<div class="c n" style="left:177.25px;top:327.85px;width:40.25px">340</div>
<div class="c n" style="left:217.5px;top:327.85px;width:39px">517</div>
<div class="c n" style="left:256.5px;top:327.85px;width:57px">548</div>
<div class="c n" style="left:313.5px;top:327.85px;width:53px">28</div>
<div class="c n" style="left:366.5px;top:327.85px;width:77px">5.1%</div>
<div class="c n" style="left:443.5px;top:327.85px;width:55.5px">0.85</div>
<div class="c n" style="left:499px;top:327.85px;width:55.5px">15</div>
<div class="c n" style="left:554.5px;top:327.85px;width:56px">15</div>
<div class="c n" style="left:610.5px;top:327.85px;width:55.75px">1</div>
<div class="c n" style="left:666.25px;top:327.85px;width:55.85px">3.0</div>
<div class="c n" style="left:722.1px;top:327.85px;width:55.4px">17.6</div>
<div class="c n" style="left:777.5px;top:327.85px;width:56px">74.3</div>
<div class="c n" style="left:833.5px;top:327.85px;width:56px">2.4</div>
<div class="c n" style="left:889.5px;top:327.85px;width:55.5px">26.3%</div>
<div class="c n" style="left:945px;top:327.85px;width:55.9px">5.7%</div>
<div class="c n" style="left:1000.9px;top:327.85px;width:55.35px">11.5%</div>
<div class="c n" style="left:1056.25px;top:327.85px;width:55.85px">22.3%</div>
<div class="c n" style="left:1112.1px;top:327.85px;width:43.5px">3</div>
<div class="c n" style="left:1155.6px;top:327.85px;width:44.6px">12.7</div>
<div class="c n" style="left:0px;top:339.15px;width:36.5px">29</div>
<div class="c" style="left:36.5px;top:339.15px;width:140.75px">Will Levis</div>
<div class="c n" style="left:177.25px;top:339.15px;width:40.25px">190</div>
<div class="c n" style="left:217.5px;top:339.15px;width:39px">301</div>
<div class="c n" style="left:256.5px;top:339.15px;width:57px">361</div>
<div class="c n" style="left:313.5px;top:339.15px;width:53px">41</div>
<div class="c n" style="left:366.5px;top:339.15px;width:77px">11.4%</div>
<div class="c n" style="left:443.5px;top:339.15px;width:55.5px">0.82</div>
<div class="c n" style="left:499px;top:339.15px;width:55.5px">4</div>
<div class="c n" style="left:554.5px;top:339.15px;width:56px">8</div>
<div class="c n" style="left:610.5px;top:339.15px;width:55.75px">0</div>
<div class="c n" style="left:666.25px;top:339.15px;width:55.85px">6.5</div>
<div class="c n" style="left:722.1px;top:339.15px;width:55.4px">18.8</div>
<div class="c n" style="left:777.5px;top:339.15px;width:56px">74.1</div>
<div class="c n" style="left:833.5px;top:339.15px;width:56px">2.4</div>
<div class="c n" style="left:889.5px;top:339.15px;width:55.5px">19.1%</div>
<div class="c n" style="left:945px;top:339.15px;width:55.9px">4.2%</div>
<div class="c n" style="left:1000.9px;top:339.15px;width:55.35px">9.4%</div>
<div class="c n" style="left:1056.25px;top:339.15px;width:55.85px">24.9%</div>
<div class="c n" style="left:1112.1px;top:339.15px;width:43.5px">19</div>
<div class="c n" style="left:1155.6px;top:339.15px;width:44.6px">7.0</div>
<div class="c n" style="left:0px;top:350.45px;width:36.5px">30</div>
<div class="c" style="left:36.5px;top:350.45px;width:140.75px">Trevor Lawrence</div>
<div class="c n" style="left:177.25px;top:350.45px;width:40.25px">172</div>
<div class="c n" style="left:217.5px;top:350.45px;width:39px">284</div>
<div class="c n" style="left:256.5px;top:350.45px;width:57px">315</div>
<div class="c n" style="left:313.5px;top:350.45px;width:53px">18</div>
<div class="c n" style="left:366.5px;top:350.45px;width:77px">5.7%</div>
<div class="c n" style="left:443.5px;top:350.45px;width:55.5px">0.69</div>
<div class="c n" style="left:499px;top:350.45px;width:55.5px">4</div>
<div class="c n" style="left:554.5px;top:350.45px;width:56px">9</div>
<div class="c n" style="left:610.5px;top:350.45px;width:55.75px">1</div>
<div class="c n" style="left:666.25px;top:350.45px;width:55.85px">5.5</div>
<div class="c n" style="left:722.1px;top:350.45px;width:55.4px">17.2</div>
<div class="c n" style="left:777.5px;top:350.45px;width:56px">73.7</div>
<div class="c n" style="left:833.5px;top:350.45px;width:56px">2.4</div>
<div class="c n" style="left:889.5px;top:350.45px;width:55.5px">22.5%</div>
<div class="c n" style="left:945px;top:350.45px;width:55.9px">4.1%</div>
<div class="c n" style="left:1000.9px;top:350.45px;width:55.35px">5.4%</div>
<div class="c n" style="left:1056.25px;top:350.45px;width:55.85px">15.2%</div>
<div class="c n" style="left:1112.1px;top:350.45px;width:43.5px">13</div>
<div class="c n" style="left:1155.6px;top:350.45px;width:44.6px">8.1</div>
<div class="c n" style="left:0px;top:361.75px;width:36.5px">31</div>
<div class="c" style="left:36.5px;top:361.75px;width:140.75px">Mac Jones</div>
<div class="c n" style="left:177.25px;top:361.75px;width:40.25px">171</div>
<div class="c n" style="left:217.5px;top:361.75px;width:39px">262</div>
<div class="c n" style="left:256.5px;top:361.75px;width:57px">290</div>
<div class="c n" style="left:313.5px;top:361.75px;width:53px">14</div>
<div class="c n" style="left:366.5px;top:361.75px;width:77px">4.8%</div>
<div class="c n" style="left:443.5px;top:361.75px;width:55.5px">1.19</div>
<div class="c n" style="left:499px;top:361.75px;width:55.5px">5</div>
<div class="c n" style="left:554.5px;top:361.75px;width:56px">12</div>
<div class="c n" style="left:610.5px;top:361.75px;width:55.75px">0</div>
<div class="c n" style="left:666.25px;top:361.75px;width:55.85px">2.8</div>
<div class="c n" style="left:722.1px;top:361.75px;width:55.4px">18.0</div>
<div class="c n" style="left:777.5px;top:361.75px;width:56px">73.6</div>
<div class="c n" style="left:833.5px;top:361.75px;width:56px">2.3</div>
<div class="c n" style="left:889.5px;top:361.75px;width:55.5px">21.4%</div>
<div class="c n" style="left:945px;top:361.75px;width:55.9px">3.1%</div>
<div class="c n" style="left:1000.9px;top:361.75px;width:55.35px">6.2%</div>
<div class="c n" style="left:1056.25px;top:361.75px;width:55.85px">14.1%</div>
<div class="c n" style="left:1112.1px;top:361.75px;width:43.5px">14</div>
<div class="c n" style="left:1155.6px;top:361.75px;width:44.6px">5.9</div>
<div class="c n" style="left:0px;top:373.05px;width:36.5px">32</div>
<div class="c" style="left:36.5px;top:373.05px;width:140.75px">Joe Flacco</div>
<div class="c n" style="left:177.25px;top:373.05px;width:40.25px">162</div>
<div class="c n" style="left:217.5px;top:373.05px;width:39px">248</div>
<div class="c n" style="left:256.5px;top:373.05px;width:57px">269</div>
<div class="c n" style="left:313.5px;top:373.05px;width:53px">18</div>
<div class="c n" style="left:366.5px;top:373.05px;width:77px">6.7%</div>
<div class="c n" style="left:443.5px;top:373.05px;width:55.5px">0.59</div>
<div class="c n" style="left:499px;top:373.05px;width:55.5px">5</div>
<div class="c n" style="left:554.5px;top:373.05px;width:56px">6</div>
<div class="c n" style="left:610.5px;top:373.05px;width:55.75px">0</div>
<div class="c n" style="left:666.25px;top:373.05px;width:55.85px">4.5</div>
<div class="c n" style="left:722.1px;top:373.05px;width:55.4px">17.4</div>
<div class="c n" style="left:777.5px;top:373.05px;width:56px">73.6</div>
<div class="c n" style="left:833.5px;top:373.05px;width:56px">2.3</div>
<div class="c n" style="left:889.5px;top:373.05px;width:55.5px">22.7%</div>
<div class="c n" style="left:945px;top:373.05px;width:55.9px">4.8%</div>
<div class="c n" style="left:1000.9px;top:373.05px;width:55.35px">6.7%</div>
<div class="c n" style="left:1056.25px;top:373.05px;width:55.85px">18.2%</div>
<div class="c n" style="left:1112.1px;top:373.05px;width:43.5px">3</div>
<div class="c n" style="left:1155.6px;top:373.05px;width:44.6px">8.7</div>
<div class="c n" style="left:0px;top:384.35px;width:36.5px">33</div>
<div class="c" style="left:36.5px;top:384.35px;width:140.75px">C.J. Stroud</div>
<div class="c n" style="left:177.25px;top:384.35px;width:40.25px">336</div>
<div class="c n" style="left:217.5px;top:384.35px;width:39px">532</div>
<div class="c n" style="left:256.5px;top:384.35px;width:57px">621</div>
<div class="c n" style="left:313.5px;top:384.35px;width:53px">52</div>
<div class="c n" style="left:366.5px;top:384.35px;width:77px">8.4%</div>
<div class="c n" style="left:443.5px;top:384.35px;width:55.5px">0.81</div>
<div class="c n" style="left:499px;top:384.35px;width:55.5px">8</div>
<div class="c n" style="left:554.5px;top:384.35px;width:56px">22</div>
<div class="c n" style="left:610.5px;top:384.35px;width:55.75px">1</div>
<div class="c n" style="left:666.25px;top:384.35px;width:55.85px">5.1</div>
<div class="c n" style="left:722.1px;top:384.35px;width:55.4px">18.7</div>
<div class="c n" style="left:777.5px;top:384.35px;width:56px">73.3</div>
<div class="c n" style="left:833.5px;top:384.35px;width:56px">2.5</div>
<div class="c n" style="left:889.5px;top:384.35px;width:55.5px">24.8%</div>
<div class="c n" style="left:945px;top:384.35px;width:55.9px">10.6%</div>
<div class="c n" style="left:1000.9px;top:384.35px;width:55.35px">9.0%</div>
<div class="c n" style="left:1056.25px;top:384.35px;width:55.85px">28.0%</div>
<div class="c n" style="left:1112.1px;top:384.35px;width:43.5px">37</div>
<div class="c n" style="left:1155.6px;top:384.35px;width:44.6px">6.8</div>
<div class="c n" style="left:0px;top:395.65px;width:36.5px">34</div>
<div class="c" style="left:36.5px;top:395.65px;width:140.75px">Jordan Love</div>
<div class="c n" style="left:177.25px;top:395.65px;width:40.25px">268</div>
<div class="c n" style="left:217.5px;top:395.65px;width:39px">425</div>
<div class="c n" style="left:256.5px;top:395.65px;width:57px">451</div>
<div class="c n" style="left:313.5px;top:395.65px;width:53px">14</div>
<div class="c n" style="left:366.5px;top:395.65px;width:77px">3.1%</div>
<div class="c n" style="left:443.5px;top:395.65px;width:55.5px">0.95</div>
<div class="c n" style="left:499px;top:395.65px;width:55.5px">6</div>
<div class="c n" style="left:554.5px;top:395.65px;width:56px">14</div>
<div class="c n" style="left:610.5px;top:395.65px;width:55.75px">0</div>
<div class="c n" style="left:666.25px;top:395.65px;width:55.85px">7.3</div>
<div class="c n" style="left:722.1px;top:395.65px;width:55.4px">18.2</div>
<div class="c n" style="left:777.5px;top:395.65px;width:56px">73.2</div>
<div class="c n" style="left:833.5px;top:395.65px;width:56px">2.4</div>
<div class="c n" style="left:889.5px;top:395.65px;width:55.5px">31.5%</div>
<div class="c n" style="left:945px;top:395.65px;width:55.9px">8.2%</div>
<div class="c n" style="left:1000.9px;top:395.65px;width:55.35px">10.9%</div>
<div class="c n" style="left:1056.25px;top:395.65px;width:55.85px">22.2%</div>
<div class="c n" style="left:1112.1px;top:395.65px;width:43.5px">12</div>
<div class="c n" style="left:1155.6px;top:395.65px;width:44.6px">7.1</div>
<div class="c n" style="left:0px;top:406.95px;width:36.5px">35</div>
<div class="c" style="left:36.5px;top:406.95px;width:140.75px">Mason Rudolph</div>
<div class="c n" style="left:177.25px;top:406.95px;width:40.25px">146</div>
<div class="c n" style="left:217.5px;top:406.95px;width:39px">228</div>
<div class="c n" style="left:256.5px;top:406.95px;width:57px">250</div>
<div class="c n" style="left:313.5px;top:406.95px;width:53px">11</div>
<div class="c n" style="left:366.5px;top:406.95px;width:77px">4.4%</div>
<div class="c n" style="left:443.5px;top:406.95px;width:55.5px">0.75</div>
<div class="c n" style="left:499px;top:406.95px;width:55.5px">5</div>
<div class="c n" style="left:554.5px;top:406.95px;width:56px">10</div>
<div class="c n" style="left:610.5px;top:406.95px;width:55.75px">3</div>
<div class="c n" style="left:666.25px;top:406.95px;width:55.85px">4.2</div>
<div class="c n" style="left:722.1px;top:406.95px;width:55.4px">18.1</div>
<div class="c n" style="left:777.5px;top:406.95px;width:56px">73.0</div>
<div class="c n" style="left:833.5px;top:406.95px;width:56px">2.6</div>
<div class="c n" style="left:889.5px;top:406.95px;width:55.5px">15.2%</div>
<div class="c n" style="left:945px;top:406.95px;width:55.9px">6.0%</div>
<div class="c n" style="left:1000.9px;top:406.95px;width:55.35px">9.2%</div>
<div class="c n" style="left:1056.25px;top:406.95px;width:55.85px">19.6%</div>
<div class="c n" style="left:1112.1px;top:406.95px;width:43.5px">11</div>
<div class="c n" style="left:1155.6px;top:406.95px;width:44.6px">8.0</div>
<div class="c n" style="left:0px;top:418.25px;width:36.5px">36</div>
<div class="c" style="left:36.5px;top:418.25px;width:140.75px">Caleb Williams</div>
<div class="c n" style="left:177.25px;top:418.25px;width:40.25px">351</div>
<div class="c n" style="left:217.5px;top:418.25px;width:39px">562</div>
<div class="c n" style="left:256.5px;top:418.25px;width:57px">681</div>
<div class="c n" style="left:313.5px;top:418.25px;width:53px">68</div>
<div class="c n" style="left:366.5px;top:418.25px;width:77px">10.0%</div>
<div class="c n" style="left:443.5px;top:418.25px;width:55.5px">1.11</div>
<div class="c n" style="left:499px;top:418.25px;width:55.5px">9</div>
<div class="c n" style="left:554.5px;top:418.25px;width:56px">36</div>
<div class="c n" style="left:610.5px;top:418.25px;width:55.75px">4</div>
<div class="c n" style="left:666.25px;top:418.25px;width:55.85px">3.8</div>
<div class="c n" style="left:722.1px;top:418.25px;width:55.4px">21.1</div>
<div class="c n" style="left:777.5px;top:418.25px;width:56px">72.4</div>
<div class="c n" style="left:833.5px;top:418.25px;width:56px">2.4</div>
<div class="c n" style="left:889.5px;top:418.25px;width:55.5px">25.6%</div>
<div class="c n" style="left:945px;top:418.25px;width:55.9px">7.6%</div>
<div class="c n" style="left:1000.9px;top:418.25px;width:55.35px">5.9%</div>
<div class="c n" style="left:1056.25px;top:418.25px;width:55.85px">23.5%</div>
<div class="c n" style="left:1112.1px;top:418.25px;width:43.5px">51</div>
<div class="c n" style="left:1155.6px;top:418.25px;width:44.6px">7.9</div>
<div class="c n" style="left:0px;top:429.55px;width:36.5px">37</div>
<div class="c" style="left:36.5px;top:429.55px;width:140.75px">Dorian Thompson-Robinson</div>
<div class="c n" style="left:177.25px;top:429.55px;width:40.25px">61</div>
<div class="c n" style="left:217.5px;top:429.55px;width:39px">118</div>
<div class="c n" style="left:256.5px;top:429.55px;width:57px">132</div>
<div class="c n" style="left:313.5px;top:429.55px;width:53px">8</div>
<div class="c n" style="left:366.5px;top:429.55px;width:77px">6.1%</div>
<div class="c n" style="left:443.5px;top:429.55px;width:55.5px">1.33</div>
<div class="c n" style="left:499px;top:429.55px;width:55.5px">1</div>
<div class="c n" style="left:554.5px;top:429.55px;width:56px">10</div>
<div class="c n" style="left:610.5px;top:429.55px;width:55.75px">0</div>
<div class="c n" style="left:666.25px;top:429.55px;width:55.85px">10.2</div>
<div class="c n" style="left:722.1px;top:429.55px;width:55.4px">17.6</div>
<div class="c n" style="left:777.5px;top:429.55px;width:56px">72.2</div>
<div class="c n" style="left:833.5px;top:429.55px;width:56px">2.2</div>
<div class="c n" style="left:889.5px;top:429.55px;width:55.5px">18.2%</div>
<div class="c n" style="left:945px;top:429.55px;width:55.9px">5.3%</div>
<div class="c n" style="left:1000.9px;top:429.55px;width:55.35px">13.6%</div>
<div class="c n" style="left:1056.25px;top:429.55px;width:55.85px">25.0%</div>
<div class="c n" style="left:1112.1px;top:429.55px;width:43.5px">6</div>
<div class="c n" style="left:1155.6px;top:429.55px;width:44.6px">6.5</div>
<div class="c n" style="left:0px;top:440.85px;width:36.5px">38</div>
<div class="c" style="left:36.5px;top:440.85px;width:140.75px">Bryce Young</div>
<div class="c n" style="left:177.25px;top:440.85px;width:40.25px">234</div>
<div class="c n" style="left:217.5px;top:440.85px;width:39px">384</div>
<div class="c n" style="left:256.5px;top:440.85px;width:57px">450</div>
<div class="c n" style="left:313.5px;top:440.85px;width:53px">29</div>
<div class="c n" style="left:366.5px;top:440.85px;width:77px">6.4%</div>
<div class="c n" style="left:443.5px;top:440.85px;width:55.5px">0.68</div>
<div class="c n" style="left:499px;top:440.85px;width:55.5px">1</div>
<div class="c n" style="left:554.5px;top:440.85px;width:56px">25</div>
<div class="c n" style="left:610.5px;top:440.85px;width:55.75px">0</div>
<div class="c n" style="left:666.25px;top:440.85px;width:55.85px">4.2</div>
<div class="c n" style="left:722.1px;top:440.85px;width:55.4px">22.3</div>
<div class="c n" style="left:777.5px;top:440.85px;width:56px">71.9</div>
<div class="c n" style="left:833.5px;top:440.85px;width:56px">2.3</div>
<div class="c n" style="left:889.5px;top:440.85px;width:55.5px">30.2%</div>
<div class="c n" style="left:945px;top:440.85px;width:55.9px">11.8%</div>
<div class="c n" style="left:1000.9px;top:440.85px;width:55.35px">8.4%</div>
<div class="c n" style="left:1056.25px;top:440.85px;width:55.85px">26.7%</div>
<div class="c n" style="left:1112.1px;top:440.85px;width:43.5px">37</div>
<div class="c n" style="left:1155.6px;top:440.85px;width:44.6px">6.9</div>
<div class="c n" style="left:0px;top:452.15px;width:36.5px">39</div>
<div class="c" style="left:36.5px;top:452.15px;width:140.75px">Spencer Rattler</div>
<div class="c n" style="left:177.25px;top:452.15px;width:40.25px">130</div>
<div class="c n" style="left:217.5px;top:452.15px;width:39px">228</div>
<div class="c n" style="left:256.5px;top:452.15px;width:57px">264</div>
<div class="c n" style="left:313.5px;top:452.15px;width:53px">22</div>
<div class="c n" style="left:366.5px;top:452.15px;width:77px">8.3%</div>
<div class="c n" style="left:443.5px;top:452.15px;width:55.5px">0.95</div>
<div class="c n" style="left:499px;top:452.15px;width:55.5px">6</div>
<div class="c n" style="left:554.5px;top:452.15px;width:56px">13</div>
<div class="c n" style="left:610.5px;top:452.15px;width:55.75px">1</div>
<div class="c n" style="left:666.25px;top:452.15px;width:55.85px">7.0</div>
<div class="c n" style="left:722.1px;top:452.15px;width:55.4px">18.2</div>
<div class="c n" style="left:777.5px;top:452.15px;width:56px">71.5</div>
<div class="c n" style="left:833.5px;top:452.15px;width:56px">2.4</div>
<div class="c n" style="left:889.5px;top:452.15px;width:55.5px">23.1%</div>
<div class="c n" style="left:945px;top:452.15px;width:55.9px">6.4%</div>
<div class="c n" style="left:1000.9px;top:452.15px;width:55.35px">6.1%</div>
<div class="c n" style="left:1056.25px;top:452.15px;width:55.85px">20.8%</div>
<div class="c n" style="left:1112.1px;top:452.15px;width:43.5px">14</div>
<div class="c n" style="left:1155.6px;top:452.15px;width:44.6px">8.4</div>
<div class="c n" style="left:0px;top:463.45px;width:36.5px">40</div>
<div class="c" style="left:36.5px;top:463.45px;width:140.75px">Dak Prescott</div>
<div class="c n" style="left:177.25px;top:463.45px;width:40.25px">185</div>
<div class="c n" style="left:217.5px;top:463.45px;width:39px">286</div>
<div class="c n" style="left:256.5px;top:463.45px;width:57px">313</div>
<div class="c n" style="left:313.5px;top:463.45px;width:53px">21</div>
<div class="c n" style="left:366.5px;top:463.45px;width:77px">6.7%</div>
<div class="c n" style="left:443.5px;top:463.45px;width:55.5px">0.90</div>
<div class="c n" style="left:499px;top:463.45px;width:55.5px">6</div>
<div class="c n" style="left:554.5px;top:463.45px;width:56px">5</div>
<div class="c n" style="left:610.5px;top:463.45px;width:55.75px">2</div>
<div class="c n" style="left:666.25px;top:463.45px;width:55.85px">2.2</div>
<div class="c n" style="left:722.1px;top:463.45px;width:55.4px">17.9</div>
<div class="c n" style="left:777.5px;top:463.45px;width:56px">71.3</div>
<div class="c n" style="left:833.5px;top:463.45px;width:56px">2.3</div>
<div class="c n" style="left:889.5px;top:463.45px;width:55.5px">19.8%</div>
<div class="c n" style="left:945px;top:463.45px;width:55.9px">9.9%</div>
<div class="c n" style="left:1000.9px;top:463.45px;width:55.35px">8.9%</div>
<div class="c n" style="left:1056.25px;top:463.45px;width:55.85px">25.6%</div>
<div class="c n" style="left:1112.1px;top:463.45px;width:43.5px">6</div>
<div class="c n" style="left:1155.6px;top:463.45px;width:44.6px">7.5</div>
<div class="c n" style="left:0px;top:474.75px;width:36.5px">41</div>
<div class="c" style="left:36.5px;top:474.75px;width:140.75px">Aidan O'Connell</div>
<div class="c n" style="left:177.25px;top:474.75px;width:40.25px">154</div>
<div class="c n" style="left:217.5px;top:474.75px;width:39px">243</div>
<div class="c n" style="left:256.5px;top:474.75px;width:57px">256</div>
<div class="c n" style="left:313.5px;top:474.75px;width:53px">10</div>
<div class="c n" style="left:366.5px;top:474.75px;width:77px">3.9%</div>
<div class="c n" style="left:443.5px;top:474.75px;width:55.5px">0.83</div>
<div class="c n" style="left:499px;top:474.75px;width:55.5px">5</div>
<div class="c n" style="left:554.5px;top:474.75px;width:56px">9</div>
<div class="c n" style="left:610.5px;top:474.75px;width:55.75px">1</div>
<div class="c n" style="left:666.25px;top:474.75px;width:55.85px">2.6</div>
<div class="c n" style="left:722.1px;top:474.75px;width:55.4px">21.0</div>
<div class="c n" style="left:777.5px;top:474.75px;width:56px">71.2</div>
<div class="c n" style="left:833.5px;top:474.75px;width:56px">2.4</div>
<div class="c n" style="left:889.5px;top:474.75px;width:55.5px">19.5%</div>
<div class="c n" style="left:945px;top:474.75px;width:55.9px">10.5%</div>
<div class="c n" style="left:1000.9px;top:474.75px;width:55.35px">7.4%</div>
<div class="c n" style="left:1056.25px;top:474.75px;width:55.85px">21.9%</div>
<div class="c n" style="left:1112.1px;top:474.75px;width:43.5px">3</div>
<div class="c n" style="left:1155.6px;top:474.75px;width:44.6px">8.7</div>
<div class="c n" style="left:0px;top:486.05px;width:36.5px">42</div>
<div class="c" style="left:36.5px;top:486.05px;width:140.75px">Jameis Winston</div>
<div class="c n" style="left:177.25px;top:486.05px;width:40.25px">181</div>
<div class="c n" style="left:217.5px;top:486.05px;width:39px">296</div>
<div class="c n" style="left:256.5px;top:486.05px;width:57px">328</div>
<div class="c n" style="left:313.5px;top:486.05px;width:53px">24</div>
<div class="c n" style="left:366.5px;top:486.05px;width:77px">7.3%</div>
<div class="c n" style="left:443.5px;top:486.05px;width:55.5px">0.56</div>
<div class="c n" style="left:499px;top:486.05px;width:55.5px">11</div>
<div class="c n" style="left:554.5px;top:486.05px;width:56px">4</div>
<div class="c n" style="left:610.5px;top:486.05px;width:55.75px">1</div>
<div class="c n" style="left:666.25px;top:486.05px;width:55.85px">4.5</div>
<div class="c n" style="left:722.1px;top:486.05px;width:55.4px">17.9</div>
<div class="c n" style="left:777.5px;top:486.05px;width:56px">70.4</div>
<div class="c n" style="left:833.5px;top:486.05px;width:56px">2.4</div>
<div class="c n" style="left:889.5px;top:486.05px;width:55.5px">18.6%</div>
<div class="c n" style="left:945px;top:486.05px;width:55.9px">7.0%</div>
<div class="c n" style="left:1000.9px;top:486.05px;width:55.35px">7.3%</div>
<div class="c n" style="left:1056.25px;top:486.05px;width:55.85px">21.6%</div>
<div class="c n" style="left:1112.1px;top:486.05px;width:43.5px">8</div>
<div class="c n" style="left:1155.6px;top:486.05px;width:44.6px">5.8</div>
<div class="c n" style="left:0px;top:497.35px;width:36.5px">43</div>
<div class="c" style="left:36.5px;top:497.35px;width:140.75px">Drew Lock</div>
<div class="c n" style="left:177.25px;top:497.35px;width:40.25px">107</div>
<div class="c n" style="left:217.5px;top:497.35px;width:39px">181</div>
<div class="c n" style="left:256.5px;top:497.35px;width:57px">203</div>
<div class="c n" style="left:313.5px;top:497.35px;width:53px">12</div>
<div class="c n" style="left:366.5px;top:497.35px;width:77px">5.9%</div>
<div class="c n" style="left:443.5px;top:497.35px;width:55.5px">1.33</div>
<div class="c n" style="left:499px;top:497.35px;width:55.5px">8</div>
<div class="c n" style="left:554.5px;top:497.35px;width:56px">4</div>
<div class="c n" style="left:610.5px;top:497.35px;width:55.75px">1</div>
<div class="c n" style="left:666.25px;top:497.35px;width:55.85px">4.0</div>
<div class="c n" style="left:722.1px;top:497.35px;width:55.4px">18.8</div>
<div class="c n" style="left:777.5px;top:497.35px;width:56px">69.3</div>
<div class="c n" style="left:833.5px;top:497.35px;width:56px">2.4</div>
<div class="c n" style="left:889.5px;top:497.35px;width:55.5px">14.3%</div>
<div class="c n" style="left:945px;top:497.35px;width:55.9px">8.9%</div>
<div class="c n" style="left:1000.9px;top:497.35px;width:55.35px">11.8%</div>
<div class="c n" style="left:1056.25px;top:497.35px;width:55.85px">26.6%</div>
<div class="c n" style="left:1112.1px;top:497.35px;width:43.5px">10</div>
<div class="c n" style="left:1155.6px;top:497.35px;width:44.6px">13.4</div>
<div class="c n" style="left:0px;top:508.65px;width:36.5px">44</div>
<div class="c" style="left:36.5px;top:508.65px;width:140.75px">Cooper Rush</div>
<div class="c n" style="left:177.25px;top:508.65px;width:40.25px">187</div>
<div class="c n" style="left:217.5px;top:508.65px;width:39px">308</div>
<div class="c n" style="left:256.5px;top:508.65px;width:57px">325</div>
<div class="c n" style="left:313.5px;top:508.65px;width:53px">13</div>
<div class="c n" style="left:366.5px;top:508.65px;width:77px">4.0%</div>
<div class="c n" style="left:443.5px;top:508.65px;width:55.5px">1.04</div>
<div class="c n" style="left:499px;top:508.65px;width:55.5px">17</div>
<div class="c n" style="left:554.5px;top:508.65px;width:56px">5</div>
<div class="c n" style="left:610.5px;top:508.65px;width:55.75px">1</div>
<div class="c n" style="left:666.25px;top:508.65px;width:55.85px">4.3</div>
<div class="c n" style="left:722.1px;top:508.65px;width:55.4px">18.2</div>
<div class="c n" style="left:777.5px;top:508.65px;width:56px">68.9</div>
<div class="c n" style="left:833.5px;top:508.65px;width:56px">2.3</div>
<div class="c n" style="left:889.5px;top:508.65px;width:55.5px">20.9%</div>
<div class="c n" style="left:945px;top:508.65px;width:55.9px">7.7%</div>
<div class="c n" style="left:1000.9px;top:508.65px;width:55.35px">5.8%</div>
<div class="c n" style="left:1056.25px;top:508.65px;width:55.85px">17.5%</div>
<div class="c n" style="left:1112.1px;top:508.65px;width:43.5px">4</div>
<div class="c n" style="left:1155.6px;top:508.65px;width:44.6px">4.5</div>
<div class="c n" style="left:0px;top:519.95px;width:36.5px">45</div>
<div class="c" style="left:36.5px;top:519.95px;width:140.75px">Michael Penix</div>
<div class="c n" style="left:177.25px;top:519.95px;width:40.25px">61</div>
<div class="c n" style="left:217.5px;top:519.95px;width:39px">105</div>
<div class="c n" style="left:256.5px;top:519.95px;width:57px">113</div>
<div class="c n" style="left:313.5px;top:519.95px;width:53px">4</div>
<div class="c n" style="left:366.5px;top:519.95px;width:77px">3.5%</div>
<div class="c n" style="left:443.5px;top:519.95px;width:55.5px">0.54</div>
<div class="c n" style="left:499px;top:519.95px;width:55.5px">1</div>
<div class="c n" style="left:554.5px;top:519.95px;width:56px">2</div>
<div class="c n" style="left:610.5px;top:519.95px;width:55.75px">0</div>
<div class="c n" style="left:666.25px;top:519.95px;width:55.85px">6.8</div>
<div class="c n" style="left:722.1px;top:519.95px;width:55.4px">22.3</div>
<div class="c n" style="left:777.5px;top:519.95px;width:56px">67.0</div>
<div class="c n" style="left:833.5px;top:519.95px;width:56px">2.3</div>
<div class="c n" style="left:889.5px;top:519.95px;width:55.5px">28.3%</div>
<div class="c n" style="left:945px;top:519.95px;width:55.9px">3.5%</div>
<div class="c n" style="left:1000.9px;top:519.95px;width:55.35px">7.1%</div>
<div class="c n" style="left:1056.25px;top:519.95px;width:55.85px">14.2%</div>
<div class="c n" style="left:1112.1px;top:519.95px;width:43.5px">4</div>
<div class="c n" style="left:1155.6px;top:519.95px;width:44.6px">3.5</div>
<div class="c n" style="left:0px;top:531.25px;width:36.5px">46</div>
<div class="c" style="left:36.5px;top:531.25px;width:140.75px">Anthony Richardson</div>
<div class="c n" style="left:177.25px;top:531.25px;width:40.25px">126</div>
<div class="c n" style="left:217.5px;top:531.25px;width:39px">264</div>
<div class="c n" style="left:256.5px;top:531.25px;width:57px">299</div>
<div class="c n" style="left:313.5px;top:531.25px;width:53px">14</div>
<div class="c n" style="left:366.5px;top:531.25px;width:77px">4.7%</div>
<div class="c n" style="left:443.5px;top:531.25px;width:55.5px">0.75</div>
<div class="c n" style="left:499px;top:531.25px;width:55.5px">5</div>
<div class="c n" style="left:554.5px;top:531.25px;width:56px">12</div>
<div class="c n" style="left:610.5px;top:531.25px;width:55.75px">2</div>
<div class="c n" style="left:666.25px;top:531.25px;width:55.85px">4.8</div>
<div class="c n" style="left:722.1px;top:531.25px;width:55.4px">28.0</div>
<div class="c n" style="left:777.5px;top:531.25px;width:56px">58.0</div>
<div class="c n" style="left:833.5px;top:531.25px;width:56px">2.4</div>
<div class="c n" style="left:889.5px;top:531.25px;width:55.5px">22.4%</div>
<div class="c n" style="left:945px;top:531.25px;width:55.9px">11.7%</div>
<div class="c n" style="left:1000.9px;top:531.25px;width:55.35px">10.0%</div>
<div class="c n" style="left:1056.25px;top:531.25px;width:55.85px">26.4%</div>
<div class="c n" style="left:1112.1px;top:531.25px;width:43.5px">21</div>
<div class="c n" style="left:1155.6px;top:531.25px;width:44.6px">8.8</div>
</div></body></html>
